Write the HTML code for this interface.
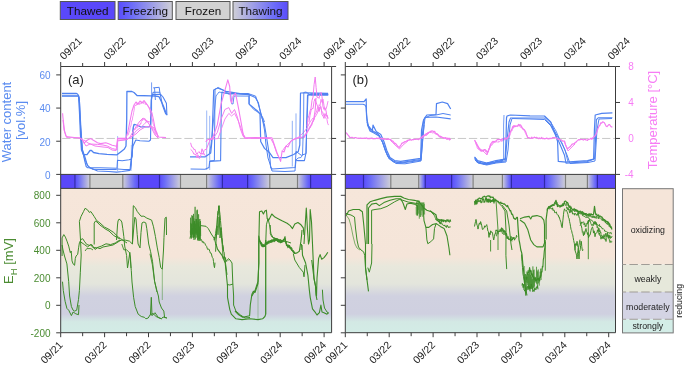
<!DOCTYPE html>
<html><head><meta charset="utf-8"><style>html,body{margin:0;padding:0;background:#fff;width:685px;height:365px;overflow:hidden}svg{display:block;will-change:transform}</style></head>
<body><svg width="685" height="365" viewBox="0 0 685 365" font-family="Liberation Sans, sans-serif">
<defs>
<linearGradient id="fz" x1="0" x2="1" y1="0" y2="0"><stop offset="0" stop-color="#5a4cfb"/><stop offset="0.25" stop-color="#6c6cf8"/><stop offset="1" stop-color="#cfcfd6"/></linearGradient>
<linearGradient id="tw" x1="0" x2="1" y1="0" y2="0"><stop offset="0" stop-color="#cfcfd6"/><stop offset="0.75" stop-color="#6c6cf8"/><stop offset="1" stop-color="#5a4cfb"/></linearGradient>
<linearGradient id="bg" x1="0" x2="0" gradientUnits="userSpaceOnUse" y1="188.4" y2="332.7"><stop offset="0" stop-color="#f6e6da"/><stop offset="0.475" stop-color="#f5e5d9"/><stop offset="0.538" stop-color="#e8e8dc"/><stop offset="0.662" stop-color="#e3e5dc"/><stop offset="0.746" stop-color="#d0d1e0"/><stop offset="0.87" stop-color="#cfd0e0"/><stop offset="0.925" stop-color="#d3e9e4"/><stop offset="1" stop-color="#d3ece6"/></linearGradient>
</defs>
<rect width="685" height="365" fill="#fff"/>
<rect x="60.3" y="1.5" width="54.7" height="18" fill="#5a48fa" stroke="#555" stroke-width="1"/>
<text x="87.65" y="14.5" font-size="11.7" text-anchor="middle" fill="#111">Thawed</text>
<rect x="118.2" y="1.5" width="54.10000000000001" height="18" fill="url(#fz)" stroke="#555" stroke-width="1"/>
<text x="145.25" y="14.5" font-size="11.7" text-anchor="middle" fill="#111">Freezing</text>
<rect x="176" y="1.5" width="54" height="18" fill="#d2d2d2" stroke="#555" stroke-width="1"/>
<text x="203.0" y="14.5" font-size="11.7" text-anchor="middle" fill="#111">Frozen</text>
<rect x="233" y="1.5" width="55" height="18" fill="url(#tw)" stroke="#555" stroke-width="1"/>
<text x="260.5" y="14.5" font-size="11.7" text-anchor="middle" fill="#111">Thawing</text>
<rect x="60.7" y="174.4" width="14.200000000000003" height="14.0" fill="#5a48fa"/>
<rect x="74.9" y="174.4" width="15.0" height="14.0" fill="url(#fz)"/>
<rect x="89.9" y="174.4" width="32.89999999999999" height="14.0" fill="#d0d0d0"/>
<rect x="122.8" y="174.4" width="15.799999999999997" height="14.0" fill="url(#tw)"/>
<rect x="138.6" y="174.4" width="20.900000000000006" height="14.0" fill="#5a48fa"/>
<rect x="159.5" y="174.4" width="21.0" height="14.0" fill="url(#fz)"/>
<rect x="180.5" y="174.4" width="26.099999999999994" height="14.0" fill="#d0d0d0"/>
<rect x="206.6" y="174.4" width="15.800000000000011" height="14.0" fill="url(#tw)"/>
<rect x="222.4" y="174.4" width="25.19999999999999" height="14.0" fill="#5a48fa"/>
<rect x="247.6" y="174.4" width="22.200000000000017" height="14.0" fill="url(#fz)"/>
<rect x="269.8" y="174.4" width="27.69999999999999" height="14.0" fill="#d0d0d0"/>
<rect x="297.5" y="174.4" width="13.100000000000023" height="14.0" fill="url(#tw)"/>
<rect x="310.6" y="174.4" width="21.0" height="14.0" fill="#5a48fa"/>
<line x1="74.9" x2="74.9" y1="174.4" y2="188.4" stroke="#302aa8" stroke-width="1.2"/>
<line x1="89.9" x2="89.9" y1="174.4" y2="188.4" stroke="#808080" stroke-width="1.2"/>
<line x1="122.8" x2="122.8" y1="174.4" y2="188.4" stroke="#808080" stroke-width="1.2"/>
<line x1="138.6" x2="138.6" y1="174.4" y2="188.4" stroke="#302aa8" stroke-width="1.2"/>
<line x1="159.5" x2="159.5" y1="174.4" y2="188.4" stroke="#302aa8" stroke-width="1.2"/>
<line x1="180.5" x2="180.5" y1="174.4" y2="188.4" stroke="#808080" stroke-width="1.2"/>
<line x1="206.6" x2="206.6" y1="174.4" y2="188.4" stroke="#808080" stroke-width="1.2"/>
<line x1="222.4" x2="222.4" y1="174.4" y2="188.4" stroke="#302aa8" stroke-width="1.2"/>
<line x1="247.6" x2="247.6" y1="174.4" y2="188.4" stroke="#302aa8" stroke-width="1.2"/>
<line x1="269.8" x2="269.8" y1="174.4" y2="188.4" stroke="#808080" stroke-width="1.2"/>
<line x1="297.5" x2="297.5" y1="174.4" y2="188.4" stroke="#808080" stroke-width="1.2"/>
<line x1="310.6" x2="310.6" y1="174.4" y2="188.4" stroke="#302aa8" stroke-width="1.2"/>
<rect x="60.7" y="188.4" width="270.90000000000003" height="144.29999999999998" fill="url(#bg)"/>
<line x1="60.7" x2="331.6" y1="138.45" y2="138.45" stroke="#c8c8c8" stroke-width="1" stroke-dasharray="8.3,2.8" stroke-dashoffset="9.6"/>
<rect x="345.3" y="174.4" width="18.19999999999999" height="14.0" fill="#5a48fa"/>
<rect x="363.5" y="174.4" width="27.30000000000001" height="14.0" fill="url(#fz)"/>
<rect x="390.8" y="174.4" width="27.899999999999977" height="14.0" fill="#d0d0d0"/>
<rect x="418.7" y="174.4" width="6.600000000000023" height="14.0" fill="url(#tw)"/>
<rect x="425.3" y="174.4" width="26.30000000000001" height="14.0" fill="#5a48fa"/>
<rect x="451.6" y="174.4" width="21.5" height="14.0" fill="url(#fz)"/>
<rect x="473.1" y="174.4" width="29.299999999999955" height="14.0" fill="#d0d0d0"/>
<rect x="502.4" y="174.4" width="9.0" height="14.0" fill="url(#tw)"/>
<rect x="511.4" y="174.4" width="33.10000000000002" height="14.0" fill="#5a48fa"/>
<rect x="544.5" y="174.4" width="21.0" height="14.0" fill="url(#fz)"/>
<rect x="565.5" y="174.4" width="21.899999999999977" height="14.0" fill="#d0d0d0"/>
<rect x="587.4" y="174.4" width="10.0" height="14.0" fill="url(#tw)"/>
<rect x="597.4" y="174.4" width="18.100000000000023" height="14.0" fill="#5a48fa"/>
<line x1="363.5" x2="363.5" y1="174.4" y2="188.4" stroke="#302aa8" stroke-width="1.2"/>
<line x1="390.8" x2="390.8" y1="174.4" y2="188.4" stroke="#808080" stroke-width="1.2"/>
<line x1="418.7" x2="418.7" y1="174.4" y2="188.4" stroke="#808080" stroke-width="1.2"/>
<line x1="425.3" x2="425.3" y1="174.4" y2="188.4" stroke="#302aa8" stroke-width="1.2"/>
<line x1="451.6" x2="451.6" y1="174.4" y2="188.4" stroke="#302aa8" stroke-width="1.2"/>
<line x1="473.1" x2="473.1" y1="174.4" y2="188.4" stroke="#808080" stroke-width="1.2"/>
<line x1="502.4" x2="502.4" y1="174.4" y2="188.4" stroke="#808080" stroke-width="1.2"/>
<line x1="511.4" x2="511.4" y1="174.4" y2="188.4" stroke="#302aa8" stroke-width="1.2"/>
<line x1="544.5" x2="544.5" y1="174.4" y2="188.4" stroke="#302aa8" stroke-width="1.2"/>
<line x1="565.5" x2="565.5" y1="174.4" y2="188.4" stroke="#808080" stroke-width="1.2"/>
<line x1="587.4" x2="587.4" y1="174.4" y2="188.4" stroke="#808080" stroke-width="1.2"/>
<line x1="597.4" x2="597.4" y1="174.4" y2="188.4" stroke="#302aa8" stroke-width="1.2"/>
<rect x="345.3" y="188.4" width="270.2" height="144.29999999999998" fill="url(#bg)"/>
<line x1="345.3" x2="615.5" y1="138.45" y2="138.45" stroke="#c8c8c8" stroke-width="1" stroke-dasharray="8.3,2.8" stroke-dashoffset="9.6"/>
<path d="M62.0,93.5 L76.5,93.5 L77.5,94.0 L78.5,95.5 L79.5,112.0 L80.5,135.0 L81.5,150.0 L83.5,154.5 L87.0,154.7 L90.0,150.5 L91.5,150.5 L93.5,152.5 L99.0,153.6 L107.0,154.3 L117.0,154.8 L121.3,151.4 L124.4,149.0 L126.0,146.0 L126.7,120.0 L126.9,91.5 L131.9,91.5 L134.0,92.5 L137.0,95.5 L151.0,95.8 L155.0,96.0 L159.0,96.7 L163.0,105.0 L166.8,115.0" fill="none" stroke="#4f82f0" stroke-width="1.3" stroke-linejoin="round"/>
<path d="M62.0,95.7 L78.5,95.7 L79.3,98.0 L80.5,125.0 L82.0,148.0 L84.5,160.0 L86.2,166.5 L87.4,167.6 L100.0,167.8 L117.0,168.2 L117.5,160.3 L122.2,160.8 L129.0,159.8 L131.2,159.2 L132.3,156.3 L132.8,135.0 L133.2,127.0 L134.5,124.3 L141.0,126.9 L148.9,126.9 L150.5,125.0 L151.5,96.0 L153.0,94.5 L160.6,94.4 L163.0,97.0 L166.4,103.2 L166.9,115.3" fill="none" stroke="#4f82f0" stroke-width="1.1" stroke-linejoin="round"/>
<path d="M62.0,96.2 L78.5,96.2 L79.5,102.0 L81.0,130.0 L82.5,150.0 L85.1,157.5 L87.4,165.3 L90.0,168.0 L93.0,168.9 L97.5,171.0 L108.7,171.5 L116.6,172.1 L122.2,171.5 L130.0,170.4 L131.0,160.0 L133.0,146.0 L135.8,140.0 L140.0,140.8 L148.9,141.2 L150.5,140.0 L151.3,100.0 L153.2,92.2 L159.8,92.2 L162.5,105.4 L165.8,114.2" fill="none" stroke="#4f82f0" stroke-width="1.1" stroke-linejoin="round"/>
<path d="M80.5,128.0 L82.0,150.0 L85.0,160.0 L88.0,166.0 L92.4,169.3 L100.0,169.5 L116.6,169.5 L117.5,169.0 L124.0,169.5 L130.6,169.5 L131.3,165.0 L132.0,150.0 L133.0,130.0 L134.0,124.0" fill="none" stroke="#4f82f0" stroke-width="1.0" stroke-linejoin="round"/>
<path d="M153.2,87.9 L159.2,87.3 L159.8,92.2" fill="none" stroke="#4f82f0" stroke-width="1.0" stroke-linejoin="round"/>
<path d="M151.6,82.4 L151.6,110.9" fill="none" stroke="#4f82f0" stroke-width="0.8" stroke-linejoin="round"/>
<path d="M154.5,88.0 L155.4,100.0" fill="none" stroke="#4f82f0" stroke-width="0.9" stroke-linejoin="round"/>
<path d="M117.6,136.0 L117.6,171.0" fill="none" stroke="#4f82f0" stroke-width="0.7" stroke-linejoin="round" stroke-opacity="0.7"/>
<path d="M131.3,145.0 L131.3,171.0" fill="none" stroke="#4f82f0" stroke-width="0.6" stroke-linejoin="round" stroke-opacity="0.6"/>
<path d="M190.0,156.8 L205.3,156.8 L210.7,153.0 L212.0,140.0 L213.7,90.0 L217.6,88.0 L226.0,91.3 L240.0,93.6 L249.2,94.4 L249.2,104.3 L256.9,110.5 L260.0,114.0 L260.3,125.0 L260.7,141.5 L264.5,148.4 L269.1,152.2 L273.0,157.6 L286.0,157.6 L293.7,154.5 L298.3,151.4 L299.8,145.0 L300.5,93.0 L305.0,92.8 L328.0,93.4" fill="none" stroke="#4f82f0" stroke-width="1.2" stroke-linejoin="round"/>
<path d="M190.6,169.0 L205.0,169.3 L209.0,167.5 L209.7,161.4 L220.6,160.6 L221.4,100.0 L222.0,92.0 L226.0,93.0 L249.0,94.8 L255.3,97.4 L258.4,102.8 L261.0,115.0 L264.5,125.0 L267.0,140.0 L269.9,158.3 L270.7,167.5 L272.2,169.0 L295.2,167.5 L296.0,160.0 L297.5,160.6 L304.4,160.6 L306.0,153.0 L307.5,95.0 L310.6,94.4 L328.2,94.4" fill="none" stroke="#4f82f0" stroke-width="1.1" stroke-linejoin="round"/>
<path d="M210.0,161.0 L214.4,160.5 L215.0,89.4 L218.2,87.5 L224.9,91.0 L228.8,94.0 L248.0,93.5 L255.6,96.1 L258.0,103.0 L262.0,117.0 L264.5,130.0 L266.0,145.0 L268.0,158.0 L270.0,164.0 L272.0,171.0 L285.0,171.5 L295.0,171.0 L296.0,151.4 L301.3,155.3 L306.0,153.7 L307.0,120.0 L308.0,95.0 L328.2,95.0" fill="none" stroke="#4f82f0" stroke-width="1.0" stroke-linejoin="round"/>
<path d="M209.5,153.0 L211.0,145.0 L216.0,96.0 L219.0,92.0 L230.7,94.2 L231.6,103.8 L233.0,104.0 L234.0,96.0 L248.9,96.1 L248.9,103.8 L253.7,109.5 L260.0,113.4 L263.0,118.0 L264.5,122.0" fill="none" stroke="#4f82f0" stroke-width="0.9" stroke-linejoin="round"/>
<path d="M310.6,94.4 L328.2,94.4" fill="none" stroke="#4f82f0" stroke-width="2.2" stroke-linejoin="round"/>
<path d="M206.7,110.5 L206.7,170.0" fill="none" stroke="#4f82f0" stroke-width="0.7" stroke-linejoin="round" stroke-opacity="0.8"/>
<path d="M209.7,115.8 L209.7,170.0" fill="none" stroke="#4f82f0" stroke-width="0.7" stroke-linejoin="round" stroke-opacity="0.8"/>
<path d="M292.3,120.8 L292.3,166.5" fill="none" stroke="#4f82f0" stroke-width="0.8" stroke-linejoin="round" stroke-opacity="0.8"/>
<path d="M296.0,113.4 L296.0,154.0" fill="none" stroke="#4f82f0" stroke-width="0.8" stroke-linejoin="round" stroke-opacity="0.8"/>
<path d="M62.6,113.2 L63.0,118.0 L63.8,124.7 L64.6,131.2 L66.2,136.2 L67.0,137.5 L79.4,137.8 L82.7,139.5 L84.3,143.5 L86.0,141.0 L88.4,139.5 L90.9,138.6 L93.0,140.0 L97.5,142.7 L100.7,143.6 L105.7,142.7 L108.0,143.5 L112.2,145.2 L115.5,146.0 L117.0,146.5 L117.5,138.4 L126.0,138.4 L128.0,131.0 L130.0,121.0 L132.0,111.0 L134.0,105.0 L136.0,102.0 L138.0,104.0 L140.0,101.0 L142.0,103.0 L144.0,100.5 L146.0,103.0 L148.0,106.0 L150.0,109.0 L152.0,113.0 L153.5,120.0 L155.0,128.0 L157.0,134.0 L158.3,137.0 L166.0,137.6" fill="none" stroke="#f47cf0" stroke-width="1.1" stroke-linejoin="round"/>
<path d="M63.0,120.0 L64.0,130.0 L66.0,136.5 L80.0,138.2 L83.0,141.0 L86.0,146.0 L90.0,144.0 L97.5,144.4 L103.0,145.0 L107.3,146.0 L112.2,148.5 L115.5,149.3 L117.0,150.0 L117.5,140.0 L124.0,140.0 L127.5,139.5 L130.0,137.0 L134.0,130.0 L137.0,125.0 L140.0,121.0 L143.0,118.0 L146.0,120.0 L149.0,124.0 L152.0,129.0 L155.0,135.0 L158.0,138.0" fill="none" stroke="#f47cf0" stroke-width="1.0" stroke-linejoin="round"/>
<path d="M84.0,140.0 L88.0,143.0 L95.0,146.0 L103.0,147.0 L108.0,147.5 L112.0,150.0 L116.0,150.5 L117.5,141.0 L126.0,139.5 L130.0,137.5 L136.0,134.0 L140.0,130.0 L146.0,126.5 L150.0,127.0 L153.0,127.0 L156.0,132.0 L158.3,137.0" fill="none" stroke="#f47cf0" stroke-width="1.0" stroke-linejoin="round"/>
<path d="M130.0,138.8 L133.0,135.0 L136.0,131.0 L140.0,128.0 L144.0,124.5 L147.0,121.0 L150.0,122.0" fill="none" stroke="#f47cf0" stroke-width="0.9" stroke-linejoin="round"/>
<path d="M128.0,135.3 L128.4,134.7 L128.8,132.9 L129.2,132.1 L129.7,130.7 L130.1,127.9 L130.5,126.3 L130.9,126.3 L131.4,122.7 L131.8,120.5 L132.3,120.3 L132.7,116.8 L133.2,115.6 L133.6,112.5 L134.1,110.4 L134.5,106.6 L135.0,105.4 L135.4,105.9 L135.8,104.9 L136.2,105.3 L136.6,105.0 L137.0,103.4 L137.4,105.0 L137.9,104.4 L138.3,103.5 L138.7,102.7 L139.2,104.7 L139.6,103.5 L140.0,103.8 L140.5,103.9 L140.9,103.2 L141.4,103.4 L141.8,101.7 L142.2,102.9 L142.7,102.1 L143.1,103.5 L143.5,103.4 L143.9,101.5 L144.4,101.7 L144.8,102.1 L145.3,104.5 L145.7,103.5 L146.2,104.4 L146.6,104.0 L147.1,105.0 L147.6,105.3 L148.0,105.8 L148.5,107.0 L148.9,107.6 L149.4,109.1 L149.9,110.5 L150.4,113.1 L150.9,114.9 L151.4,117.3 L151.9,118.5 L152.4,119.2 L152.8,122.5 L153.3,124.3 L153.7,125.7 L154.2,126.3 L154.6,128.2 L155.1,128.1 L155.5,130.9 L156.0,131.5 L156.4,131.9 L156.9,132.6 L157.4,135.6 L157.9,137.0 L158.4,135.6" fill="none" stroke="#f47cf0" stroke-width="0.8" stroke-linejoin="round"/>
<path d="M135.0,129.9 L135.4,128.6 L135.8,127.5 L136.3,127.5 L136.7,128.2 L137.1,128.0 L137.5,125.6 L137.9,126.5 L138.3,124.8 L138.8,126.0 L139.2,124.6 L139.6,125.5 L140.0,125.1 L140.5,123.3 L140.9,123.9 L141.3,121.6 L141.7,120.4 L142.2,121.0 L142.6,119.0 L143.0,119.2 L143.5,119.6 L143.9,119.9 L144.4,118.7 L144.8,118.3 L145.3,120.7 L145.7,119.8 L146.2,121.8 L146.6,122.1 L147.1,121.3 L147.5,121.9 L148.0,122.5 L148.4,123.2 L148.8,123.5 L149.2,123.9 L149.7,124.5 L150.1,125.7 L150.5,125.3 L151.0,125.7 L151.4,127.1 L151.8,126.6 L152.2,127.4 L152.7,129.7 L153.1,129.3 L153.5,130.2 L154.0,129.7 L154.4,131.6 L154.8,132.8 L155.2,132.3 L155.7,134.6 L156.1,135.5" fill="none" stroke="#f47cf0" stroke-width="0.8" stroke-linejoin="round"/>
<path d="M190.6,142.8 L191.7,146.9 L192.8,147.3 L193.9,149.6 L195.0,149.3 L196.0,152.7 L197.0,154.5 L198.0,152.6 L199.0,151.6 L200.0,153.4 L201.0,153.6 L202.0,148.8 L203.3,152.1 L204.6,155.1 L205.9,156.1" fill="none" stroke="#f47cf0" stroke-width="1.0" stroke-linejoin="round"/>
<path d="M190.6,149.3 L191.7,150.3 L192.8,151.8 L193.9,154.2 L195.0,154.0 L196.0,155.1 L197.0,157.9 L198.0,154.9 L199.0,158.3 L200.0,157.9 L201.0,154.6 L202.0,152.9 L203.0,154.5 L204.0,150.7 L205.0,149.4 L206.0,149.7" fill="none" stroke="#f47cf0" stroke-width="1.0" stroke-linejoin="round"/>
<path d="M205.8,142.0 L207.0,140.0 L211.5,138.4 L213.0,137.0 L217.3,124.9 L221.1,103.8 L224.9,90.3 L227.8,79.8 L229.7,86.5 L230.5,100.0 L231.6,103.0 L233.0,96.0 L235.5,93.2 L238.4,107.6 L241.2,123.0 L243.2,134.5 L245.1,137.3 L272.0,137.8 L273.7,143.0 L276.8,152.2 L280.6,161.4 L282.2,150.7 L284.0,152.0 L286.0,146.0 L288.0,147.0 L290.6,141.5 L295.2,138.4 L304.4,136.9 L309.0,129.2 L313.6,120.0 L315.2,110.0 L316.0,98.0" fill="none" stroke="#f47cf0" stroke-width="1.1" stroke-linejoin="round"/>
<path d="M206.0,150.0 L210.0,140.0 L213.0,138.5 L217.3,132.5 L221.1,119.1 L224.9,109.5 L228.8,107.6 L231.6,113.4 L234.5,109.5 L237.4,117.2 L240.3,128.7 L243.0,136.0 L245.0,138.4 L270.7,138.4 L273.7,144.0 L276.0,151.0 L278.0,156.0 L280.0,158.0" fill="none" stroke="#f47cf0" stroke-width="1.0" stroke-linejoin="round"/>
<path d="M209.0,139.5 L218.0,138.5 L221.0,130.0 L224.9,119.1 L228.8,113.4 L231.6,116.0 L234.5,113.4 L238.4,121.0 L242.0,131.0 L245.0,138.6" fill="none" stroke="#f47cf0" stroke-width="0.9" stroke-linejoin="round"/>
<path d="M283.0,150.0 L285.0,147.0 L288.0,144.0 L292.0,140.0 L296.0,139.0 L300.0,136.0 L304.0,132.0 L307.0,128.0 L310.0,122.0 L313.0,118.0" fill="none" stroke="#f47cf0" stroke-width="0.9" stroke-linejoin="round"/>
<path d="M307.0,126.2 L308.0,118.3 L309.0,115.3 L310.0,111.0 L311.0,108.3 L312.0,100.3 L313.0,97.1 L314.1,84.5 L315.2,77.0 L316.1,87.4 L317.0,97.3 L318.0,97.2 L319.0,98.4 L320.0,93.7 L321.0,92.2 L322.0,96.6 L323.0,106.8 L324.0,109.4 L325.0,107.8 L326.0,110.7 L327.0,116.8 L328.0,118.9" fill="none" stroke="#f47cf0" stroke-width="1.0" stroke-linejoin="round"/>
<path d="M309.0,122.1 L310.0,115.6 L311.0,110.7 L312.0,108.5 L313.0,108.7 L314.0,101.7 L315.0,98.9 L316.0,102.1 L317.0,104.8 L318.0,107.4 L319.0,111.6 L320.0,106.9 L321.0,106.5 L322.0,114.8 L323.0,116.0 L324.0,118.4 L325.0,113.5 L326.0,116.2 L327.0,115.0 L328.0,118.1" fill="none" stroke="#f47cf0" stroke-width="1.0" stroke-linejoin="round"/>
<path d="M312.0,122.5 L312.8,121.6 L313.6,119.2 L314.4,116.9 L315.2,114.1 L316.0,113.0 L316.8,110.4 L317.6,107.4 L318.4,108.5 L319.2,104.7 L320.0,105.9 L321.0,99.3 L322.0,102.4 L323.0,99.2 L324.0,105.5 L325.0,110.4 L326.0,109.1 L327.0,105.8 L328.0,101.1" fill="none" stroke="#f47cf0" stroke-width="0.9" stroke-linejoin="round"/>
<path d="M304.0,137.7 L304.7,134.8 L305.3,134.1 L306.0,134.0 L306.7,132.4 L307.3,130.9 L308.0,131.3 L308.6,129.4 L309.2,127.7 L309.8,126.6 L310.5,127.5 L311.1,125.4 L311.7,125.4 L312.3,123.3 L312.9,121.2 L313.6,120.6 L314.2,119.9 L314.8,116.3 L315.5,116.6 L316.1,115.4 L316.8,114.1 L317.4,113.2 L318.1,109.8 L318.7,110.7 L319.4,110.4 L320.0,107.0 L320.6,108.6 L321.2,109.5 L321.8,111.2 L322.4,111.8 L323.0,112.9 L323.7,115.5 L324.3,114.8 L325.0,116.7 L325.6,117.8 L326.3,118.8 L327.0,119.6 L327.6,123.2 L328.5,125.1" fill="none" stroke="#f47cf0" stroke-width="0.9" stroke-linejoin="round"/>
<path d="M296.0,160.0 L298.0,158.0 L301.0,157.5 L302.5,155.0 L303.6,120.0 L303.8,92.5 L306.0,92.0 L309.0,94.0" fill="none" stroke="#4f82f0" stroke-width="0.9" stroke-linejoin="round"/>
<path d="M346.0,101.6 L364.0,101.6 L366.2,99.0 L366.5,115.0 L367.0,120.0 L368.5,126.1 L372.4,130.7 L373.0,125.0 L376.2,131.5 L380.8,134.6 L383.9,141.5 L386.9,150.7 L390.0,157.6 L394.6,160.6 L400.7,161.4 L420.7,158.3 L421.5,130.0 L423.5,120.0 L426.8,115.0 L436.0,114.5 L436.5,103.6 L442.3,102.0 L447.6,103.6 L450.7,109.0" fill="none" stroke="#4f82f0" stroke-width="1.2" stroke-linejoin="round"/>
<path d="M346.0,104.3 L363.0,104.3 L365.0,105.0 L366.0,107.0 L367.5,125.0 L370.0,131.0 L374.0,133.0 L379.0,136.0 L383.0,143.0 L386.0,152.0 L389.0,158.5 L394.0,162.0 L400.7,162.5 L420.7,159.5 L422.0,140.0 L423.5,121.0 L425.0,117.4 L436.0,117.0 L450.7,118.9" fill="none" stroke="#4f82f0" stroke-width="1.1" stroke-linejoin="round"/>
<path d="M367.0,122.0 L369.0,128.0 L374.0,131.5 L379.0,135.0 L382.0,141.0 L385.0,150.0 L388.0,157.0 L393.0,161.0 L400.0,163.2 L421.0,160.3 L423.0,135.0 L425.0,118.0 L430.0,115.5 L436.0,115.0 L443.0,113.5 L450.7,115.0" fill="none" stroke="#4f82f0" stroke-width="1.0" stroke-linejoin="round"/>
<path d="M368.0,125.0 L371.0,131.0 L377.0,133.0 L381.0,138.0 L384.0,146.0 L387.0,154.0 L391.0,160.0 L396.0,163.5 L405.0,163.8 L421.0,161.0 L424.0,125.0" fill="none" stroke="#4f82f0" stroke-width="1.0" stroke-linejoin="round"/>
<path d="M474.5,156.8 L477.5,160.6 L486.7,163.0 L496.0,160.6 L505.2,159.0 L506.0,140.0 L506.5,118.0 L507.0,116.0 L510.5,115.0 L530.0,115.8 L544.5,116.0 L550.7,122.0 L555.3,133.8 L557.6,141.5 L558.3,161.4 L566.0,162.2 L587.5,160.6 L593.6,159.1 L594.4,130.0 L595.2,115.0 L601.7,113.4 L612.4,112.8" fill="none" stroke="#4f82f0" stroke-width="1.2" stroke-linejoin="round"/>
<path d="M474.5,158.5 L477.5,162.5 L486.7,164.5 L496.0,162.3 L505.2,161.0 L507.0,140.0 L509.0,122.0 L510.5,118.0 L530.0,118.0 L544.5,118.0 L550.0,124.0 L555.0,134.0 L559.0,142.0 L564.5,155.3 L566.0,163.2 L587.5,161.6 L594.6,158.8 L595.5,140.0 L596.4,119.6 L598.2,117.8 L612.4,117.8" fill="none" stroke="#4f82f0" stroke-width="1.1" stroke-linejoin="round"/>
<path d="M475.0,160.0 L478.0,163.0 L486.7,165.0 L496.0,163.0 L506.0,162.0 L508.0,150.0 L510.0,125.0 L512.0,118.5 L530.0,119.0 L544.5,119.5 L552.0,127.0 L558.0,137.0 L562.0,143.0 L567.0,155.0 L570.0,163.5 L588.0,162.5 L595.0,161.0 L597.0,130.0 L599.0,119.0 L612.0,118.5" fill="none" stroke="#4f82f0" stroke-width="1.0" stroke-linejoin="round"/>
<path d="M544.5,116.5 L550.0,121.0 L556.0,131.0 L560.0,140.0 L565.0,150.0 L568.0,162.0" fill="none" stroke="#4f82f0" stroke-width="0.9" stroke-linejoin="round"/>
<path d="M346.3,132.6 L346.9,133.8 L347.5,134.3 L348.1,135.1 L348.8,135.9 L349.4,137.0 L350.0,137.7 L350.6,137.5 L351.2,137.4 L351.9,137.5 L352.5,137.4 L353.1,137.8 L353.8,138.0 L354.4,137.7 L355.0,137.5 L355.6,137.6 L356.2,137.8 L356.9,138.1 L357.5,138.3 L358.1,138.0 L358.8,138.4 L359.4,138.3 L360.0,138.1 L360.6,138.1 L361.2,138.2 L361.8,138.4 L362.4,138.2 L363.0,138.4 L363.6,138.2 L364.2,138.0 L364.8,138.3 L365.4,138.5 L366.0,137.9 L366.6,138.2 L367.2,138.2 L367.8,138.7 L368.4,138.7 L369.0,138.2 L369.6,138.7 L370.2,138.6 L370.8,138.1 L371.4,138.3 L372.0,138.0 L372.6,138.7 L373.2,138.5 L373.8,138.8 L374.4,138.7 L375.0,138.6 L375.6,138.7 L376.2,138.5 L376.8,138.1 L377.4,138.6 L378.0,138.1 L378.6,138.2 L379.2,138.9 L379.8,138.2 L380.4,138.3 L381.0,138.3 L381.6,139.1 L382.2,138.5 L382.8,138.3 L383.4,139.2 L384.0,138.5 L384.6,139.3 L385.2,139.1 L385.8,139.3 L386.4,139.5 L387.0,139.1 L387.6,139.4 L388.2,138.6 L388.8,139.4 L389.4,139.2 L390.0,139.4 L390.7,139.3 L391.3,140.5 L392.0,141.3 L392.6,140.9 L393.3,141.7 L393.9,142.5 L394.6,143.3 L395.3,143.4 L395.9,144.0 L396.6,144.7 L397.2,145.7 L397.9,146.5 L398.5,146.8 L399.2,147.5 L399.8,146.6 L400.4,145.6 L401.1,144.8 L401.7,143.5 L402.3,143.0 L402.9,143.2 L403.5,142.3 L404.1,142.3 L404.7,141.5 L405.4,141.7 L406.0,141.5 L406.6,141.1 L407.2,140.6 L407.8,140.3 L408.4,140.1 L409.0,140.4 L409.6,139.6 L410.3,139.5 L410.9,140.1 L411.5,140.2 L412.1,139.7 L412.8,139.6 L413.4,139.8 L414.0,139.3 L414.6,139.3 L415.3,139.2 L415.9,139.5 L416.5,139.2 L417.1,139.1 L417.8,139.5 L418.4,139.7 L419.0,139.0 L419.6,138.9 L420.3,138.2 L420.9,138.2 L421.5,137.4 L422.1,136.7 L422.8,136.2 L423.4,135.5 L424.0,135.5 L424.7,134.9 L425.3,134.3 L425.9,134.1 L426.5,133.6 L427.1,133.7 L427.7,132.7 L428.4,133.1 L429.0,132.2 L429.6,132.0 L430.2,131.4 L430.8,131.4 L431.4,131.0 L432.0,130.9 L432.7,131.0 L433.3,131.4 L434.0,131.7 L434.6,131.4 L435.3,132.5 L436.0,133.5 L436.6,133.6 L437.3,134.0 L437.9,134.6 L438.6,135.7 L439.2,136.3 L439.8,136.9 L440.4,137.1 L441.0,136.7 L441.6,137.0 L442.2,137.4 L442.8,137.3 L443.4,137.9 L444.1,138.1 L444.7,138.2 L445.3,137.6 L446.0,138.3 L446.6,138.0 L447.3,138.2 L448.0,138.7 L448.7,138.3 L449.4,138.4 L450.0,139.4 L450.7,139.0" fill="none" stroke="#f47cf0" stroke-width="1.2" stroke-linejoin="round"/>
<path d="M418.0,139.2 L418.5,139.5 L419.0,139.4 L419.5,138.0 L420.0,138.5 L420.5,138.4 L421.0,138.3 L421.5,137.7 L422.0,138.2 L422.5,138.4 L423.0,137.1 L423.5,137.0 L424.0,135.8 L424.5,135.7 L425.0,136.0 L425.5,134.7 L426.0,135.7 L426.5,135.3 L427.0,133.4 L427.5,134.5 L428.0,133.1 L428.5,133.4 L429.0,133.0 L429.5,132.0 L430.0,132.6 L430.5,132.5 L431.0,132.7 L431.5,131.7 L432.0,132.5 L432.5,133.1 L433.0,132.8 L433.5,132.8 L434.0,132.3 L434.5,133.2 L435.0,133.2 L435.5,134.1 L436.0,134.3 L436.5,134.4 L437.0,133.9 L437.5,135.0 L438.0,135.2 L438.5,134.8 L439.0,136.4 L439.5,136.3 L440.0,135.7 L440.5,137.4 L441.0,136.4 L441.5,136.9 L442.0,137.8 L442.5,137.7 L443.0,137.8 L443.5,138.2 L444.0,138.0 L444.5,138.0 L445.0,137.9 L445.5,137.9 L446.0,139.1 L446.5,139.3 L447.0,139.1 L447.5,139.6 L448.0,139.0 L448.5,139.0 L449.0,139.3 L449.5,140.3 L450.0,139.0" fill="none" stroke="#f47cf0" stroke-width="1.0" stroke-linejoin="round"/>
<path d="M390.0,139.8 L395.0,145.0 L399.5,149.0 L403.0,145.0 L408.0,141.0" fill="none" stroke="#f47cf0" stroke-width="0.9" stroke-linejoin="round"/>
<path d="M474.5,140.0 L475.5,141.6 L476.5,144.4 L477.5,145.8 L478.5,147.3 L479.6,149.0 L480.6,150.8 L481.5,151.0 L482.4,150.2 L483.4,150.8 L484.3,149.5 L485.2,149.6 L486.4,150.9 L487.5,152.4 L488.5,150.6 L489.6,147.7 L490.6,144.0 L491.8,142.5 L492.9,141.4 L493.8,141.6 L494.7,141.4 L495.7,141.0 L496.6,140.4 L497.5,139.4 L498.4,139.7 L499.2,139.3 L500.1,139.7 L501.0,139.7 L501.9,139.0 L502.7,138.9 L503.6,139.7 L504.5,138.0 L505.4,138.8 L506.4,138.4 L507.3,138.1 L508.2,136.7 L509.1,134.8 L510.0,132.7 L511.0,130.6 L511.9,129.0 L512.8,126.4 L513.8,125.8 L514.9,126.7 L515.9,126.1 L516.8,126.0 L517.7,125.9 L518.7,124.4 L519.6,125.3 L520.5,124.9 L521.3,126.1 L522.2,127.7 L523.0,129.1 L524.0,129.5 L525.0,130.7 L525.9,132.3 L526.8,135.3 L527.7,137.8 L528.5,137.5 L529.3,137.8 L530.2,138.4 L531.0,138.4 L531.8,137.2 L532.6,138.3 L533.4,138.0 L534.3,137.1 L535.1,137.7 L535.9,137.5 L536.7,137.3 L537.5,138.1 L538.4,138.7 L539.2,137.8 L540.0,138.7 L540.8,138.4 L541.7,137.5 L542.5,138.7 L543.4,138.3 L544.2,138.9 L545.0,138.5 L545.9,138.6 L546.7,138.0 L547.6,138.7 L548.4,138.9 L549.2,138.8 L550.1,138.2 L550.9,138.7 L551.8,138.3 L552.6,137.7 L553.4,137.6 L554.3,137.7 L555.1,137.9 L556.0,137.8 L556.8,138.4 L557.7,139.1 L558.5,139.1 L559.4,139.3 L560.2,140.0 L561.1,139.8 L561.9,140.4 L562.8,141.2 L563.6,141.0 L564.5,141.0 L565.5,144.7 L566.5,146.9 L567.5,148.9 L568.5,147.9 L569.6,147.1 L570.6,146.2 L571.5,145.0 L572.4,144.0 L573.4,143.7 L574.3,144.1 L575.2,142.4 L576.1,142.2 L576.9,141.1 L577.8,140.4 L578.6,139.6 L579.4,139.9 L580.2,139.6 L581.0,139.3 L581.8,139.5 L582.6,139.6 L583.5,140.1 L584.3,139.4 L585.1,139.3 L585.9,140.0 L586.7,140.0 L587.5,140.4 L588.4,139.1 L589.3,139.3 L590.1,139.0 L591.0,138.1 L591.9,139.3 L592.8,137.9 L593.7,136.8 L594.6,136.5 L595.5,135.1 L596.4,133.4 L597.3,130.6 L598.2,127.9 L599.1,126.0 L599.9,125.3 L600.8,122.8 L601.7,123.1 L602.6,121.9 L603.5,122.1 L604.4,122.8 L605.3,124.5 L606.2,126.3 L607.1,126.6 L607.9,125.7 L608.8,124.7 L609.7,124.7 L610.6,126.1 L611.5,127.0 L612.4,126.8" fill="none" stroke="#f47cf0" stroke-width="1.2" stroke-linejoin="round"/>
<path d="M476.0,142.0 L479.0,148.0 L483.0,151.0 L487.0,155.0 L490.0,146.0 L494.0,141.0" fill="none" stroke="#f47cf0" stroke-width="0.9" stroke-linejoin="round"/>
<path d="M474.8,140.5 L475.2,141.7 L475.6,142.9 L476.0,144.1 L476.4,145.0 L476.8,146.1 L477.2,147.7 L477.7,148.6 L478.1,147.6 L478.6,149.5 L479.0,149.0 L479.4,149.9 L479.8,150.3 L480.2,150.6 L480.6,149.1 L481.1,149.9 L481.5,150.7 L481.9,151.6 L482.3,150.2 L482.8,150.4 L483.2,151.4 L483.6,149.7 L484.1,150.1 L484.6,149.8 L485.0,150.4 L485.4,151.6 L485.8,150.7 L486.3,152.6 L486.7,153.3 L487.1,154.2 L487.6,152.5 L488.1,152.1 L488.5,149.9 L489.0,148.8 L489.4,147.8 L489.9,148.2 L490.3,146.9 L490.8,145.7 L491.2,144.8 L491.6,145.5 L492.1,144.8 L492.5,144.6 L492.9,143.5 L493.4,143.3 L493.8,142.2 L494.3,142.9 L494.7,141.0 L495.1,141.9 L495.5,142.4 L495.9,142.2 L496.4,140.9 L496.8,141.2 L497.2,142.3 L497.6,141.9 L498.0,142.3 L498.4,142.2 L498.9,141.3 L499.3,142.1 L499.7,141.7 L500.1,140.9 L500.5,140.8 L501.0,140.1 L501.4,140.6 L501.8,141.6 L502.3,139.7 L502.7,140.5 L503.1,139.5 L503.6,139.3 L504.0,140.3 L504.4,139.3 L504.9,138.8 L505.3,138.9 L505.7,139.7 L506.1,139.5 L506.6,138.2 L507.0,138.5 L507.4,139.4 L507.9,137.3 L508.4,137.4 L508.8,136.5 L509.2,136.6 L509.7,135.7 L510.1,135.1 L510.5,133.7 L510.9,132.1 L511.3,131.1 L511.7,130.0 L512.1,130.6 L512.5,128.2 L512.9,127.2 L513.4,128.3 L513.8,125.9 L514.2,127.2 L514.6,125.5 L515.0,126.2 L515.4,125.7 L515.8,126.8 L516.2,126.4 L516.6,126.3 L517.0,126.5 L517.5,126.6 L517.9,125.5 L518.4,125.9 L518.8,125.5 L519.3,124.7 L519.8,126.6 L520.2,126.5 L520.6,127.4 L521.1,126.6 L521.5,127.7 L522.0,127.9 L522.5,129.0 L522.9,128.3 L523.4,129.4 L523.9,130.3 L524.3,130.1 L524.8,131.6 L525.2,132.9 L525.7,133.2 L526.1,134.5 L526.6,135.4 L527.0,135.5 L527.5,136.7" fill="none" stroke="#f47cf0" stroke-width="0.8" stroke-linejoin="round"/>
<path d="M474.8,158.1 L475.2,158.0 L475.7,158.8 L476.1,159.1 L476.6,160.0 L477.0,160.6 L477.4,161.7 L477.9,161.7 L478.3,162.1 L478.7,162.4 L479.1,162.2 L479.6,162.8 L480.0,162.5 L480.4,162.5 L480.9,163.2 L481.3,163.2 L481.7,163.4 L482.1,162.9 L482.6,163.3 L483.0,162.9 L483.4,163.7 L483.8,163.7 L484.3,163.1 L484.7,163.9 L485.1,163.1 L485.5,163.1 L486.0,163.9 L486.4,163.5 L486.8,163.7 L487.2,163.7 L487.6,162.9 L488.1,163.7 L488.5,163.1 L488.9,163.2 L489.3,163.0 L489.7,163.4 L490.1,163.4 L490.5,162.7 L491.0,162.5 L491.4,162.6 L491.8,162.7 L492.2,162.2 L492.6,162.2 L493.0,162.9 L493.5,162.8 L493.9,163.0 L494.3,162.9 L494.7,162.8 L495.1,162.0 L495.5,161.7 L495.9,161.8 L496.3,161.8 L496.8,161.8 L497.2,161.7 L497.6,161.4 L498.0,161.9 L498.4,161.1 L498.8,161.2 L499.2,161.6 L499.6,161.4 L500.0,160.7 L500.4,160.5 L500.8,161.1 L501.3,160.0 L501.7,160.1 L502.1,160.4 L502.5,160.3 L502.9,159.8 L503.3,159.4 L503.7,159.4 L504.1,159.8 L504.5,159.2 L504.9,159.6" fill="none" stroke="#4f82f0" stroke-width="1.4" stroke-linejoin="round"/>
<path d="M503.6,160.0 L503.6,125.0 L504.0,115.0" fill="none" stroke="#4f82f0" stroke-width="0.8" stroke-linejoin="round"/>
<path d="M564.0,141.0 L566.0,146.0 L568.0,151.0 L571.0,148.0 L575.0,144.0" fill="none" stroke="#f47cf0" stroke-width="0.9" stroke-linejoin="round"/>
<path d="M62.1,256.0 L62.1,237.9 L63.8,234.6 L65.4,237.1 L67.0,241.2 L68.7,246.1 L70.3,252.7 L71.2,251.0 L72.0,260.9 L73.1,263.9 L74.6,265.3 L75.3,258.4 L76.1,256.0 L77.7,254.3 L78.6,247.8 L79.4,242.8 L81.0,239.5 L82.7,238.7 L84.3,241.2 L86.8,244.5 L89.3,245.3 L91.7,244.5 L93.4,247.0 L95.0,249.4 L97.5,247.8 L100.0,248.6 L103.0,247.0 L108.0,246.0 L113.0,245.0 L118.0,242.0 L121.0,240.0" fill="none" stroke="#3c8c28" stroke-width="1.0" stroke-linejoin="round"/>
<path d="M62.1,245.0 L63.0,250.0 L64.5,256.0 L66.9,263.9 L68.7,281.7 L69.6,296.0 L71.4,306.6 L73.1,310.2 L74.6,311.1 L76.7,310.2 L78.5,299.5 L79.4,290.6 L80.3,272.8 L81.2,255.0 L80.5,240.0 L79.4,221.4 L81.0,216.5 L83.5,211.6 L85.1,208.3 L87.6,209.9 L89.3,212.4 L90.9,211.6 L94.2,216.5 L96.7,220.6 L100.0,223.0 L104.5,227.1 L109.0,229.4 L113.7,232.5 L118.3,237.1 L120.6,238.6 L124.0,241.0 L127.0,243.0" fill="none" stroke="#3c8c28" stroke-width="1.0" stroke-linejoin="round"/>
<path d="M62.5,281.7 L63.3,290.6 L65.1,301.3 L66.9,308.4 L68.7,310.2 L71.4,315.6 L73.1,312.0 L75.8,313.8 L78.5,314.7 L79.0,305.0" fill="none" stroke="#3c8c28" stroke-width="1.0" stroke-linejoin="round"/>
<path d="M80.0,241.5 L84.5,244.6 L87.6,246.9 L90.7,244.6 L93.0,247.7 L96.8,247.7 L101.4,246.1 L106.0,243.8 L110.6,244.6 L115.2,243.0 L118.3,240.8 L121.8,240.2 L125.7,240.2 L129.5,241.2 L132.4,244.0" fill="none" stroke="#3c8c28" stroke-width="1.0" stroke-linejoin="round"/>
<path d="M85.1,251.0 L86.8,248.6 L90.9,248.6 L93.0,250.0" fill="none" stroke="#3c8c28" stroke-width="0.9" stroke-linejoin="round"/>
<path d="M94.2,244.5 L94.2,223.1 L95.5,221.0 L97.0,222.0 L99.9,225.0 L106.0,229.4 L109.0,231.0 L113.7,235.5 L118.0,238.0 L120.0,239.0" fill="none" stroke="#3c8c28" stroke-width="1.0" stroke-linejoin="round"/>
<path d="M116.5,240.0 L117.5,225.0 L118.0,221.0 L119.0,219.1 L120.5,220.0 L121.8,222.0 L122.8,228.7 L123.8,236.4 L124.7,246.0 L126.6,255.5 L127.5,268.0 L128.5,262.0 L129.8,252.3 L131.3,270.7 L132.0,282.0 L133.6,297.3 L135.2,306.5 L138.2,314.2 L141.3,316.5 L144.4,317.3 L145.9,318.8 L148.2,318.0 L150.5,314.2 L151.3,297.3 L152.0,315.7 L155.0,312.7 L158.2,317.3 L161.5,318.8 L163.0,317.0 L166.9,318.0" fill="none" stroke="#3c8c28" stroke-width="1.0" stroke-linejoin="round"/>
<path d="M132.4,244.0 L133.0,217.2 L133.3,205.7 L135.3,207.6 L137.2,211.4 L141.0,216.2 L143.9,216.2 L146.8,218.1 L151.6,220.1 L153.5,226.8 L155.4,236.4 L157.3,247.9 L159.2,257.5 L160.7,267.6 L162.3,269.1 L163.5,250.0 L164.0,237.3 L165.0,218.1 L166.3,217.2 L166.5,235.0" fill="none" stroke="#3c8c28" stroke-width="1.0" stroke-linejoin="round"/>
<path d="M121.8,244.0 L123.8,249.8 L126.6,249.8 L129.5,252.7 L130.5,258.0 L131.0,268.0" fill="none" stroke="#3c8c28" stroke-width="0.9" stroke-linejoin="round"/>
<path d="M132.4,244.0 L134.0,225.0 L134.9,217.2 L136.0,219.0 L137.2,234.4 L138.1,244.0 L140.0,247.9 L141.0,232.5 L142.0,222.9 L143.9,222.0 L145.8,222.9 L146.8,228.7 L148.7,244.0 L150.6,251.7 L152.5,261.3 L154.6,281.4 L156.9,290.6 L158.4,296.0 L159.2,302.0 L161.5,308.0 L163.8,311.1 L164.6,317.3 L166.9,318.0" fill="none" stroke="#3c8c28" stroke-width="1.0" stroke-linejoin="round"/>
<path d="M150.0,253.8 L152.3,264.5 L154.6,281.4 L156.9,292.0" fill="none" stroke="#3c8c28" stroke-width="0.9" stroke-linejoin="round"/>
<path d="M162.3,269.0 L162.3,300.0" fill="none" stroke="#3c8c28" stroke-width="0.7" stroke-linejoin="round" stroke-opacity="0.7"/>
<path d="M150.0,315.0 L153.0,313.5 L156.1,316.5 L159.2,318.0 L161.5,318.8" fill="none" stroke="#3c8c28" stroke-width="1.0" stroke-linejoin="round"/>
<path d="M190.3,230.7 L190.5,235.3 L190.6,217.7 L190.8,233.5 L190.9,222.9 L191.1,237.3 L191.3,229.8 L191.4,238.6 L191.6,224.1 L191.7,232.7 L191.9,215.2 L192.1,237.7 L192.2,228.4 L192.4,232.7 L192.5,216.0 L192.7,234.5 L192.9,228.2 L193.0,234.1 L193.2,222.8 L193.3,237.1 L193.5,213.9 L193.7,238.1 L193.8,218.4 L194.0,240.0 L194.1,226.0 L194.3,234.8 L194.5,221.4 L194.6,234.2 L194.8,220.9 L194.9,231.8 L195.1,206.8 L195.3,239.4 L195.4,228.4 L195.6,231.7 L195.7,223.8 L195.9,233.4 L196.1,219.0 L196.2,237.7 L196.4,219.0 L196.5,232.9 L196.7,229.2 L196.9,234.8 L197.0,210.4 L197.2,232.5 L197.3,209.7 L197.5,240.4 L197.7,230.7 L197.8,235.9 L198.0,221.4 L198.1,238.8 L198.3,223.5 L198.5,239.3 L198.6,214.3 L198.8,240.6 L198.9,219.4 L199.1,240.8 L199.3,229.2 L199.4,238.9 L199.6,226.6 L199.7,236.4 L199.9,219.0 L200.1,234.7 L200.2,222.0 L200.4,239.6 L200.5,221.0 L200.7,236.0" fill="none" stroke="#3c8c28" stroke-width="0.7" stroke-linejoin="round"/>
<path d="M190.0,238.7 L190.5,236.0 L191.0,235.4 L191.5,232.8 L192.0,233.4 L192.5,232.9 L193.0,233.9 L193.5,235.1 L194.0,237.1 L194.5,236.0 L195.0,233.1 L195.5,231.3 L196.0,230.4 L196.5,230.2 L197.0,232.8 L197.5,235.5 L198.0,236.8 L198.6,235.5 L199.1,238.7 L199.7,238.1 L200.2,240.6 L200.8,239.6 L201.3,239.5 L201.9,240.9 L202.4,242.3 L202.9,241.3 L203.5,243.0 L204.0,242.9 L204.5,242.8 L205.0,243.6 L205.5,245.1 L206.0,245.7 L206.6,246.4 L207.1,248.0 L207.7,249.5 L208.2,249.4 L208.8,248.9 L209.3,249.9 L209.8,251.4 L210.4,253.2 L210.9,252.8 L211.4,253.7 L211.9,256.0 L212.4,257.5 L213.0,258.3 L213.5,261.4 L214.0,265.7 L214.5,267.7 L215.0,262.7" fill="none" stroke="#3c8c28" stroke-width="1.0" stroke-linejoin="round"/>
<path d="M215.6,251.7 L216.1,241.2 L216.6,230.8 L217.1,222.1 L217.5,215.5 L217.9,211.0 L218.4,210.4 L218.8,206.0 L219.3,215.8 L219.8,226.6 L220.2,227.7 L220.6,230.4 L221.1,235.3 L221.5,237.5 L221.9,239.0 L222.3,241.3 L222.7,244.8 L223.2,246.3 L223.6,251.4 L224.0,252.0 L224.4,255.2 L224.8,258.4 L225.3,261.8 L225.7,264.5 L226.1,268.0 L226.6,271.8 L227.0,274.8" fill="none" stroke="#3c8c28" stroke-width="1.0" stroke-linejoin="round"/>
<path d="M216.0,238.4 L216.5,234.4 L217.0,225.8 L217.5,228.3 L218.0,234.8 L218.5,226.0 L219.0,217.0 L219.5,225.8 L220.0,238.0 L220.5,233.9 L221.0,227.7 L221.4,235.4 L221.8,240.9 L222.2,244.7 L222.6,250.9 L223.0,257.3 L223.4,259.0 L223.8,256.7 L224.3,257.9 L224.7,257.1 L225.1,259.7 L225.5,257.7 L225.9,261.8 L226.4,260.5 L226.8,261.2 L227.2,259.6 L227.6,259.5 L228.1,259.6 L228.5,260.4" fill="none" stroke="#3c8c28" stroke-width="0.9" stroke-linejoin="round"/>
<path d="M200.6,225.6 L206.0,226.3 L208.3,228.6 L211.3,234.0 L214.4,238.6 L216.0,245.0" fill="none" stroke="#3c8c28" stroke-width="1.0" stroke-linejoin="round"/>
<path d="M214.0,240.2 L214.4,237.1 L214.8,239.7 L215.2,236.2 L215.6,233.8 L216.0,230.2 L216.5,227.3 L217.0,227.4 L217.5,217.8 L218.0,215.2 L218.5,211.4 L219.0,205.5 L219.5,210.8 L220.0,214.5 L220.5,220.6 L221.0,226.4 L221.5,230.7 L222.0,237.4 L222.5,244.6 L223.0,248.9" fill="none" stroke="#3c8c28" stroke-width="1.0" stroke-linejoin="round"/>
<path d="M216.0,244.0 L217.5,249.2 L222.0,255.3 L225.2,263.0 L226.7,278.3 L227.5,286.0 L227.5,297.3 L229.8,309.6 L231.3,314.2 L235.9,318.8 L242.0,319.6 L250.0,318.8 L258.0,319.6 L262.6,318.8 L264.9,316.5 L265.7,314.2 L265.7,240.0" fill="none" stroke="#3c8c28" stroke-width="1.1" stroke-linejoin="round"/>
<path d="M228.2,258.4 L230.0,260.0 L232.0,263.0 L232.8,283.0 L233.6,296.0 L233.6,305.0 L235.9,311.1 L240.5,315.0 L245.0,318.0 L250.0,317.5" fill="none" stroke="#3c8c28" stroke-width="1.0" stroke-linejoin="round"/>
<path d="M227.0,284.5 L229.8,285.0 L233.0,284.0" fill="none" stroke="#3c8c28" stroke-width="1.0" stroke-linejoin="round"/>
<path d="M235.0,311.0 L238.0,314.2 L242.7,317.3 L249.6,315.7 L250.3,305.0 L251.9,294.3 L253.4,291.2 L255.0,292.5 L258.0,283.5 L258.8,263.0 L258.8,244.0 L259.5,211.8 L261.8,211.0 L263.4,214.0 L264.9,211.0 L266.4,210.2 L267.2,218.7 L268.7,220.2 L271.8,214.0 L274.9,217.1 L279.5,219.4 L282.5,221.0 L287.1,223.3 L290.2,225.6 L292.5,228.6 L294.8,224.0 L297.9,222.5 L301.0,224.8 L303.3,227.9 L304.0,235.0" fill="none" stroke="#3c8c28" stroke-width="1.1" stroke-linejoin="round"/>
<path d="M251.9,296.0 L255.0,290.6 L258.0,281.4 L258.8,263.0 L258.8,236.0 L259.9,241.4 L261.0,243.6 L263.1,246.9 L265.3,244.7 L267.5,242.5 L270.8,241.4 L273.0,240.3 L276.3,239.2 L278.5,240.3 L280.7,242.5 L282.9,240.3 L285.0,238.1 L286.1,243.6 L287.8,245.8 L290.5,248.0 L292.7,251.3 L294.9,253.5 L297.1,252.9 L299.3,251.3 L300.9,241.4 L301.5,236.0 L302.0,230.0" fill="none" stroke="#3c8c28" stroke-width="1.1" stroke-linejoin="round"/>
<path d="M259.9,240.2 L260.3,243.6 L260.6,241.7 L261.0,244.9 L261.4,245.9 L261.7,243.2 L262.1,246.9 L262.4,245.4 L262.8,245.2 L263.1,245.6 L263.5,244.7 L263.8,246.2 L264.2,245.3 L264.6,246.8 L264.9,246.4 L265.3,242.9 L265.7,243.9 L266.0,243.5 L266.4,242.3 L266.8,242.2 L267.1,241.9 L267.5,243.3 L267.9,241.7 L268.2,240.7 L268.6,241.0 L269.0,241.8 L269.3,242.1 L269.7,240.7 L270.1,242.4 L270.4,240.4 L270.8,242.1 L271.2,241.7 L271.5,239.7 L271.9,241.9 L272.3,240.2 L272.6,240.6 L273.0,240.7 L273.4,240.7 L273.7,239.8 L274.1,238.2 L274.5,241.0 L274.8,241.1 L275.2,239.5 L275.6,239.8 L275.9,238.4 L276.3,240.8 L276.7,240.1 L277.0,238.5 L277.4,241.0 L277.8,241.9 L278.1,239.5 L278.5,242.3 L278.9,240.6 L279.2,239.7 L279.6,242.3 L280.0,241.1 L280.3,243.1 L280.7,242.8 L281.1,240.6 L281.4,241.9 L281.8,242.8 L282.2,240.9 L282.5,240.8 L282.9,241.8 L283.2,239.7 L283.6,239.5 L283.9,239.5 L284.3,240.1 L284.6,237.3 L285.0,236.5 L285.4,241.0 L285.7,242.0 L286.1,242.8 L286.5,245.7 L287.0,246.2 L287.4,245.4 L287.8,247.8 L288.2,247.5 L288.6,247.4 L289.0,245.9 L289.3,245.1 L289.7,248.1 L290.1,248.6 L290.5,247.4 L290.9,248.5 L291.2,249.4 L291.6,248.6 L292.0,251.0 L292.3,251.0 L292.7,250.8 L293.1,250.1 L293.4,252.2 L293.8,251.7 L294.2,253.7 L294.5,251.8 L294.9,253.1" fill="none" stroke="#3c8c28" stroke-width="1.0" stroke-linejoin="round"/>
<path d="M260.0,241.0 L260.4,242.2 L260.8,243.2 L261.1,242.2 L261.5,242.6 L261.9,244.4 L262.2,244.0 L262.6,245.5 L263.0,244.9 L263.4,244.4 L263.7,245.6 L264.1,246.5 L264.5,246.1 L264.8,244.7 L265.2,244.0 L265.5,242.7 L265.9,243.1 L266.3,243.0 L266.6,244.7 L267.0,241.8 L267.4,244.3 L267.7,242.6 L268.1,242.4 L268.4,241.7 L268.8,243.8 L269.1,241.1 L269.5,242.2 L269.9,241.9 L270.2,240.8 L270.6,240.7 L270.9,243.0 L271.3,242.2 L271.6,241.9 L272.0,242.3 L272.4,239.6 L272.7,241.5 L273.1,241.6 L273.4,239.8 L273.8,240.5 L274.1,242.1 L274.5,239.9 L274.9,241.3 L275.2,239.3 L275.6,240.8 L275.9,239.5 L276.3,240.2 L276.6,239.7 L277.0,241.2 L277.4,240.9 L277.7,240.2 L278.1,240.8 L278.4,240.1 L278.8,241.3 L279.1,239.7 L279.5,240.6 L279.9,240.8 L280.2,240.3 L280.6,239.3 L280.9,239.7 L281.3,241.3 L281.6,240.0 L282.0,241.8 L282.4,240.9 L282.8,242.2 L283.1,241.7 L283.5,241.2 L283.9,240.0 L284.2,238.8 L284.6,240.3 L285.0,240.8 L285.4,242.3 L285.8,241.0 L286.2,241.9 L286.6,245.5 L287.0,245.8 L287.4,245.2 L287.8,246.3 L288.1,244.6 L288.5,246.1 L288.9,246.8 L289.2,246.8 L289.6,245.7 L290.0,245.8 L290.4,247.9 L290.8,249.2 L291.1,247.3 L291.5,247.4 L291.9,248.2 L292.2,250.9 L292.6,250.2 L293.0,250.9" fill="none" stroke="#3c8c28" stroke-width="0.9" stroke-linejoin="round"/>
<path d="M270.3,225.0 L270.3,233.8 L271.9,237.0 L276.3,238.7 L279.0,239.5" fill="none" stroke="#3c8c28" stroke-width="0.9" stroke-linejoin="round"/>
<path d="M265.7,244.0 L266.4,224.8 L268.0,218.7 L269.5,224.8 L271.0,234.0 L273.3,237.8 L278.0,239.4 L282.5,241.0 L287.1,241.7 L291.0,243.0" fill="none" stroke="#3c8c28" stroke-width="1.0" stroke-linejoin="round"/>
<path d="M265.7,240.0 L265.7,314.0" fill="none" stroke="#3c8c28" stroke-width="0.8" stroke-linejoin="round" stroke-opacity="0.8"/>
<path d="M258.0,283.0 L258.0,319.0" fill="none" stroke="#3c8c28" stroke-width="0.6" stroke-linejoin="round" stroke-opacity="0.6"/>
<path d="M293.3,253.8 L294.8,260.0 L299.4,267.6 L303.3,272.2 L304.0,276.8 L305.0,265.0" fill="none" stroke="#3c8c28" stroke-width="1.0" stroke-linejoin="round"/>
<path d="M302.0,245.0 L302.5,255.3 L305.6,263.0 L307.9,275.3 L309.4,290.6 L310.2,297.3 L312.5,308.8 L315.5,312.7 L317.0,315.0 L319.4,312.7 L320.9,305.0 L322.0,312.0 L324.0,312.7 L327.0,314.2 L328.6,312.7" fill="none" stroke="#3c8c28" stroke-width="1.1" stroke-linejoin="round"/>
<path d="M304.0,244.0 L306.3,208.0 L307.5,230.0 L308.5,244.0 L309.5,240.0 L310.2,209.5 L311.5,222.0 L312.5,244.0 L314.0,278.3 L315.5,286.0 L316.0,295.0 L317.0,300.0" fill="none" stroke="#3c8c28" stroke-width="1.1" stroke-linejoin="round"/>
<path d="M311.7,260.0 L314.0,278.3 L315.5,286.0 L316.5,296.0 L317.0,278.3 L318.6,258.4 L320.1,254.6 L321.7,259.2 L324.0,257.6 L326.3,254.6 L327.8,252.3" fill="none" stroke="#3c8c28" stroke-width="1.1" stroke-linejoin="round"/>
<path d="M322.4,289.7 L323.0,300.0 L324.5,308.0 L327.0,312.0 L328.6,313.0" fill="none" stroke="#3c8c28" stroke-width="1.0" stroke-linejoin="round"/>
<path d="M301.0,250.0 L301.5,244.0" fill="none" stroke="#3c8c28" stroke-width="1.0" stroke-linejoin="round"/>
<path d="M346.3,215.6 L348.6,211.0 L353.2,209.5 L359.3,209.5 L362.4,211.8 L363.9,226.3 L365.5,244.0 L365.5,267.6 L367.0,279.9 L368.5,291.4" fill="none" stroke="#3c8c28" stroke-width="1.1" stroke-linejoin="round"/>
<path d="M346.0,213.0 L347.0,214.0 L351.0,215.0 L354.5,217.0 L355.5,228.0 L357.0,240.0 L358.5,247.0 L361.0,250.0 L363.6,251.8 L364.7,255.3 L365.5,267.6 L367.0,280.0" fill="none" stroke="#3c8c28" stroke-width="1.0" stroke-linejoin="round"/>
<path d="M346.0,215.0 L349.0,219.0 L351.0,226.0 L353.0,236.0 L355.0,244.0 L357.0,248.0 L360.0,250.0" fill="none" stroke="#3c8c28" stroke-width="0.8" stroke-linejoin="round" stroke-opacity="0.8"/>
<path d="M367.0,244.0 L367.0,204.9 L370.1,201.8 L374.7,200.3 L380.8,198.7 L387.0,197.2 L394.6,196.4 L400.7,196.4 L403.8,198.0 L408.4,199.5 L414.6,200.3 L419.2,201.8 L423.8,208.0 L426.8,210.2 L431.4,211.8 L436.0,214.8 L436.8,218.7 L440.6,220.2 L445.3,221.0 L450.7,221.0" fill="none" stroke="#3c8c28" stroke-width="1.2" stroke-linejoin="round"/>
<path d="M368.5,244.0 L368.5,208.0 L371.6,204.1 L376.2,203.3 L379.3,205.6 L383.9,202.6 L390.0,200.3 L396.1,198.7 L400.7,198.7 L403.0,203.0 L405.3,209.5 L407.0,204.0 L410.0,203.3 L414.6,204.1 L417.6,206.0 L417.6,215.6" fill="none" stroke="#3c8c28" stroke-width="1.1" stroke-linejoin="round"/>
<path d="M371.6,244.0 L371.6,210.2 L375.0,209.5 L380.8,208.7 L387.0,206.4 L394.6,201.8 L399.2,199.5 L402.0,200.0 L408.0,202.0 L414.0,203.0 L419.0,204.0" fill="none" stroke="#3c8c28" stroke-width="1.0" stroke-linejoin="round"/>
<path d="M367.8,267.6 L369.3,272.2 L371.6,263.0 L372.0,244.0" fill="none" stroke="#3c8c28" stroke-width="1.0" stroke-linejoin="round"/>
<path d="M416.0,207.0 L416.3,214.7 L416.6,201.8 L416.9,215.7 L417.2,200.0 L417.5,211.1 L417.8,204.9 L418.1,209.9 L418.4,200.2 L418.7,213.7 L419.0,202.3 L419.3,218.7 L419.6,200.7 L419.9,216.8 L420.2,202.7 L420.5,216.9 L420.8,203.1 L421.1,215.3 L421.4,202.3 L421.7,210.5 L422.0,203.2 L422.3,216.8 L422.6,202.4 L422.9,210.5 L423.2,202.9 L423.5,209.1 L423.8,202.2 L424.1,214.3 L424.4,203.8 L424.7,214.6" fill="none" stroke="#3c8c28" stroke-width="0.6" stroke-linejoin="round" stroke-opacity="0.75"/>
<path d="M423.0,205.0 L424.0,220.7 L425.9,227.4 L428.8,227.4 L432.6,224.5 L436.4,223.6 L440.3,226.4 L444.1,228.4 L447.0,236.0 L448.9,247.5 L449.9,255.2" fill="none" stroke="#3c8c28" stroke-width="1.1" stroke-linejoin="round"/>
<path d="M430.0,211.2 L430.5,210.7 L431.0,211.0 L431.5,212.3 L432.0,212.2 L432.6,213.7 L433.1,213.1 L433.6,214.9 L434.1,214.8 L434.6,215.3 L435.1,217.3 L435.6,218.5 L436.1,220.0 L436.6,219.6 L437.1,218.9 L437.6,221.1 L438.1,220.2 L438.7,219.0 L439.2,221.5 L439.7,220.4 L440.2,220.6 L440.7,220.0 L441.2,219.2 L441.7,221.9 L442.2,219.5 L442.7,220.2 L443.3,222.1 L443.8,219.6 L444.3,220.8 L444.8,220.9 L445.3,220.2 L445.8,222.3 L446.4,220.7 L446.9,219.5 L447.5,220.9 L448.0,219.5 L448.5,221.6 L449.1,222.1 L449.6,222.2 L450.2,219.6 L450.7,221.5" fill="none" stroke="#3c8c28" stroke-width="1.0" stroke-linejoin="round"/>
<path d="M436.1,219.7 L436.6,220.4 L437.1,220.3 L437.6,220.7 L438.1,220.6 L438.7,222.1 L439.2,221.1 L439.7,223.5 L440.2,221.6 L440.7,224.1 L441.2,222.6 L441.7,222.7 L442.2,224.7 L442.7,224.5 L443.3,225.5 L443.8,225.2 L444.3,225.9 L444.8,224.9 L445.3,226.7 L445.8,226.4 L446.4,227.5 L446.9,225.3 L447.5,225.5 L448.0,227.1 L448.5,227.7 L449.1,226.6 L449.6,227.4 L450.2,227.1 L450.7,226.7" fill="none" stroke="#3c8c28" stroke-width="1.0" stroke-linejoin="round"/>
<path d="M425.9,227.4 L426.9,239.9 L427.8,243.7 L430.7,241.8 L433.6,238.9 L434.5,228.4 L436.0,224.0" fill="none" stroke="#3c8c28" stroke-width="1.0" stroke-linejoin="round"/>
<path d="M474.5,201.7 L475.2,201.6 L475.8,200.0 L476.5,200.1 L477.1,200.5 L477.8,199.1 L478.4,199.1 L479.1,198.2 L479.8,198.2 L480.4,198.6 L481.1,198.5 L481.7,198.8 L482.4,197.6 L483.0,196.8 L483.7,196.9 L484.3,196.2 L484.9,196.5 L485.5,197.1 L486.1,197.1 L486.8,196.3 L487.4,196.1 L488.0,195.8 L488.6,195.9 L489.2,196.5 L489.8,195.9 L490.5,197.5 L491.1,197.2 L491.8,197.1 L492.4,197.6 L493.1,197.1 L493.7,198.8 L494.4,199.2 L495.0,199.0 L495.6,200.4 L496.3,200.1 L496.9,200.6 L497.5,201.3 L498.2,201.4 L498.8,202.4 L499.5,202.7 L500.1,203.1 L500.8,202.1 L501.4,203.6 L502.1,203.3 L502.7,203.4 L503.3,203.9 L503.9,204.1 L504.5,203.9 L505.1,204.6 L505.8,205.5 L506.4,205.9 L507.0,206.6 L507.6,205.5 L508.2,207.2 L508.8,208.2 L509.4,209.3 L510.1,211.0 L510.7,210.6 L511.3,213.1 L511.9,214.5 L512.5,214.2 L513.2,216.4 L513.8,218.4 L514.4,218.3 L515.0,219.3 L515.6,219.2 L516.2,218.1 L516.8,217.4 L517.4,217.3 L518.2,229.6 L519.0,239.8 L519.6,242.7 L520.2,246.0 L520.8,250.0 L521.4,251.7 L522.0,254.3 L522.8,263.9 L523.6,270.3 L524.3,277.4 L525.0,285.5 L525.9,295.6" fill="none" stroke="#3c8c28" stroke-width="1.2" stroke-linejoin="round"/>
<path d="M474.5,201.2 L474.9,204.6 L475.3,201.6 L475.8,201.3 L476.2,204.3 L476.6,201.0 L477.0,203.8 L477.5,201.2 L477.9,200.9 L478.3,200.4 L478.7,201.6 L479.2,201.6 L479.6,200.7 L480.0,201.0 L480.4,200.0 L480.8,202.4 L481.2,202.7 L481.6,201.8 L482.0,202.1 L482.4,198.7 L482.8,199.4 L483.2,199.2 L483.6,198.9 L484.0,202.4 L484.4,202.0 L484.8,202.0 L485.2,200.4 L485.6,198.4 L486.0,199.7 L486.4,198.1 L486.8,201.9 L487.2,199.2 L487.6,199.3 L488.0,202.3 L488.4,199.1 L488.8,202.3 L489.2,199.7 L489.6,201.3 L490.0,198.9 L490.4,202.5 L490.8,200.4 L491.2,200.2 L491.6,201.6 L492.0,201.4 L492.4,200.0 L492.8,199.5 L493.2,201.6 L493.6,199.3 L494.0,203.1 L494.4,200.9 L494.8,200.2 L495.2,201.0 L495.6,200.2 L496.0,201.2" fill="none" stroke="#3c8c28" stroke-width="1.1" stroke-linejoin="round"/>
<path d="M474.5,226.5 L475.0,223.9 L475.5,221.6 L476.0,219.4 L476.5,222.1 L477.0,225.2 L477.5,225.8 L478.0,229.1 L478.5,226.7 L479.0,224.0 L479.6,222.9 L480.1,224.4 L480.6,221.6 L481.2,223.3 L481.8,225.9 L482.4,229.3 L483.0,229.5 L483.5,228.7 L484.1,228.0 L484.6,225.8 L485.1,227.2 L485.6,226.2 L486.2,225.5 L486.7,224.6 L487.3,227.4 L487.9,231.0 L488.4,231.6 L489.0,237.4 L489.6,232.8 L490.1,234.7 L490.7,230.8 L491.3,232.2 L491.9,231.9 L492.5,233.1 L493.1,236.9 L493.7,240.0 L494.4,236.7 L495.0,233.5 L495.5,233.8 L496.0,229.9 L496.5,231.0 L497.0,229.8 L497.5,232.2 L498.0,230.8 L498.5,231.6 L499.0,231.5 L499.5,232.0 L500.0,230.4 L500.5,230.8 L501.0,229.2 L501.5,227.7 L502.0,231.2 L502.5,228.4 L503.0,228.7 L503.5,232.0 L504.0,230.1 L504.5,232.5 L505.0,230.8 L505.5,232.3 L506.0,235.2 L506.5,233.3 L507.0,236.0 L507.5,238.5 L508.0,236.4 L508.5,239.1 L509.0,240.0 L509.5,239.3 L510.0,239.7 L510.5,239.3 L511.0,236.4 L511.5,236.9 L512.0,238.1 L512.5,240.0 L513.0,237.2 L513.5,238.8 L514.0,237.2 L514.5,240.2 L515.0,238.8 L515.5,238.3 L516.0,238.2 L516.5,235.3 L517.0,236.9" fill="none" stroke="#3c8c28" stroke-width="1.0" stroke-linejoin="round"/>
<path d="M496.0,236.3 L496.4,236.1 L496.8,233.0 L497.2,232.3 L497.6,231.5 L498.0,234.3 L498.4,231.7 L498.8,231.0 L499.2,231.1 L499.6,231.4 L500.0,229.2 L500.4,229.6 L500.8,231.8 L501.2,232.1 L501.6,230.3 L502.0,229.6 L502.4,233.7 L502.8,233.1 L503.2,232.8 L503.6,232.3 L504.0,235.0 L504.4,233.2 L504.8,232.8 L505.2,232.7 L505.6,234.3 L506.0,235.9 L506.4,235.4 L506.8,238.5 L507.2,237.7 L507.6,237.3 L508.0,238.7 L508.4,238.6 L508.8,238.9 L509.2,238.6 L509.6,238.9 L510.0,239.0 L510.4,240.7 L510.8,238.0 L511.2,240.9 L511.6,238.9 L512.0,241.5" fill="none" stroke="#3c8c28" stroke-width="0.8" stroke-linejoin="round"/>
<path d="M496.0,200.0 L498.0,230.0 L498.0,250.0" fill="none" stroke="#3c8c28" stroke-width="0.9" stroke-linejoin="round"/>
<path d="M490.6,240.0 L490.6,251.5" fill="none" stroke="#3c8c28" stroke-width="0.9" stroke-linejoin="round"/>
<path d="M497.5,201.8 L502.0,206.4 L505.0,211.0 L506.0,230.0 L505.9,255.3 L506.7,269.1" fill="none" stroke="#3c8c28" stroke-width="1.0" stroke-linejoin="round"/>
<path d="M502.0,205.0 L506.7,211.0 L509.0,225.0 L511.0,244.0 L512.0,250.0" fill="none" stroke="#3c8c28" stroke-width="1.0" stroke-linejoin="round"/>
<path d="M520.0,218.7 L524.6,217.1 L529.2,216.4 L530.7,219.0 L532.0,216.4 L536.9,215.6 L541.5,217.1 L543.8,220.2 L544.5,224.8 L544.5,243.0 L543.0,246.9 L536.9,246.9 L533.8,244.6 L530.7,240.0 L527.7,229.4 L524.6,223.3 L520.0,220.0" fill="none" stroke="#3c8c28" stroke-width="1.1" stroke-linejoin="round"/>
<path d="M521.5,254.4 L522.0,261.4 L522.5,267.5 L523.0,274.1 L523.5,276.7 L524.1,280.4 L524.6,283.8 L525.1,287.2 L525.6,289.7 L526.1,291.1 L527.0,295.4" fill="none" stroke="#3c8c28" stroke-width="1.0" stroke-linejoin="round"/>
<path d="M526.1,276.8 L526.5,279.3 L527.0,275.4 L527.4,274.7 L527.9,272.0 L528.3,272.5 L528.8,272.0 L529.2,270.0 L529.6,267.5 L530.1,270.6 L530.5,271.7 L531.0,270.4 L531.4,275.0 L531.9,273.5 L532.3,274.3 L532.7,276.6 L533.2,277.0 L533.6,277.3 L534.0,279.7 L534.4,278.7 L534.9,278.5 L535.3,277.7 L535.7,280.4 L536.2,279.6 L536.6,280.7 L537.1,280.0 L537.5,278.5 L538.0,278.9 L538.4,279.7 L538.8,278.3 L539.3,281.0 L539.7,278.5 L540.2,275.7 L540.6,277.0 L541.1,275.5 L541.5,271.5 L542.0,271.9 L542.4,266.2 L542.9,267.0 L543.3,259.7 L543.8,257.3 L544.3,251.0 L544.8,247.9 L545.3,241.6" fill="none" stroke="#3c8c28" stroke-width="1.1" stroke-linejoin="round"/>
<path d="M522.0,285.5 L522.4,283.4 L522.8,285.6 L523.2,287.7 L523.6,284.3 L524.0,290.0 L524.4,290.0 L524.8,291.1 L525.2,290.2 L525.6,290.2 L526.0,292.9 L526.4,288.2 L526.8,288.0 L527.2,286.5 L527.6,286.5 L528.0,289.8 L528.4,285.2 L528.8,288.7 L529.2,286.2 L529.6,288.7 L530.0,287.6 L530.4,287.4 L530.8,288.7 L531.2,284.2 L531.6,285.8 L532.0,286.7 L532.4,287.4 L532.8,289.1 L533.2,290.7 L533.6,290.1 L534.0,291.6 L534.4,290.0 L534.8,287.7 L535.2,288.4 L535.6,289.7 L536.0,289.9 L536.4,287.0 L536.8,286.7 L537.2,288.1 L537.6,285.6 L538.0,289.3" fill="none" stroke="#3c8c28" stroke-width="1.0" stroke-linejoin="round"/>
<path d="M524.5,266.0 L524.8,282.7 L525.1,274.0 L525.4,292.4 L525.7,274.2 L526.0,282.3 L526.3,277.6 L526.6,290.6 L526.9,271.5 L527.2,282.9 L527.5,276.6 L527.8,285.0 L528.1,270.2 L528.4,285.3 L528.7,273.8 L529.0,287.2 L529.3,270.0 L529.6,290.6 L529.9,269.9 L530.2,291.5 L530.5,275.1 L530.8,287.3 L531.1,271.2 L531.4,289.1 L531.7,276.5 L532.0,288.0 L532.3,279.2 L532.6,291.9 L532.9,266.4 L533.2,288.2 L533.5,270.3 L533.8,287.4 L534.1,269.6 L534.4,286.6 L534.7,276.6 L535.0,282.3 L535.3,278.0 L535.6,281.2 L535.9,277.5 L536.2,282.9 L536.5,266.8 L536.8,284.2 L537.1,270.4 L537.4,287.0 L537.7,271.6 L538.0,278.7 L538.3,269.5 L538.6,283.4 L538.9,278.0 L539.2,285.6 L539.5,277.6 L539.8,281.2 L540.1,271.7 L540.4,278.0 L540.7,268.7 L541.0,280.0 L541.3,268.4" fill="none" stroke="#3c8c28" stroke-width="0.6" stroke-linejoin="round" stroke-opacity="0.9"/>
<path d="M545.3,240.0 L545.3,270.7" fill="none" stroke="#3c8c28" stroke-width="0.9" stroke-linejoin="round"/>
<path d="M546.1,239.5 L546.1,219.5 L546.9,213.3 L547.6,208.6 L548.2,208.2 L548.8,206.9 L549.5,207.5 L550.1,206.6 L550.7,206.0 L551.3,205.4 L551.9,206.1 L552.5,205.6 L553.1,204.9 L553.7,205.4 L554.5,203.1 L555.2,202.2 L556.0,200.3 L556.8,203.3 L557.5,206.6 L558.3,206.1 L559.1,205.7 L559.9,206.0 L560.5,206.4 L561.2,205.5 L561.8,206.3 L562.4,204.7 L563.1,205.7 L563.7,205.1 L564.5,201.5 L565.1,201.2 L565.7,201.2 L566.3,201.9 L566.9,203.0 L567.5,202.5 L568.1,203.6 L568.7,205.6 L569.4,206.7 L570.0,207.6 L570.6,208.5 L571.3,208.4 L571.9,209.2 L572.6,209.3 L573.2,209.3 L573.9,209.5 L574.5,209.1 L575.2,209.5 L575.8,210.0 L576.4,210.5 L577.0,210.1 L577.6,211.6 L578.2,211.1 L578.9,211.5 L579.5,211.9 L580.1,211.0 L580.7,212.3 L581.3,212.5 L581.9,211.7 L582.5,211.8 L583.2,213.2 L583.8,213.6 L584.4,213.8 L585.0,213.5 L585.6,214.1 L586.3,213.6 L586.9,214.1 L587.5,214.7 L588.1,215.1 L588.7,214.0 L589.3,215.2 L589.9,213.7 L590.5,215.2 L591.2,213.9 L591.8,214.8 L592.4,214.7 L593.0,214.8 L593.6,214.0 L594.5,206.3 L595.5,213.7 L596.1,214.9 L596.7,214.1 L597.3,215.6 L598.0,215.5 L598.6,215.0 L599.2,216.8 L599.8,216.1 L600.5,216.1 L601.1,216.9 L601.8,216.9 L602.4,217.8 L603.1,218.9 L603.7,219.8 L604.4,219.6 L605.1,220.5 L605.7,221.0 L606.4,221.4 L607.0,221.4 L607.7,221.8 L608.3,222.2 L609.0,223.4 L609.6,224.0 L610.2,226.1 L610.8,226.7 L611.4,228.3 L612.0,229.5" fill="none" stroke="#3c8c28" stroke-width="1.2" stroke-linejoin="round"/>
<path d="M547.0,210.4 L547.4,208.2 L547.8,207.8 L548.2,208.5 L548.6,206.3 L549.0,207.0 L549.4,207.9 L549.7,205.9 L550.1,207.6 L550.5,206.3 L550.8,207.2 L551.2,205.8 L551.5,206.4 L551.9,206.0 L552.3,204.3 L552.6,205.2 L553.0,205.3 L553.4,204.6 L553.8,205.0 L554.1,205.6 L554.5,204.9 L554.9,204.7 L555.2,202.4 L555.6,203.9 L556.0,203.4 L556.4,204.7 L556.7,202.0 L557.1,202.8 L557.5,205.6 L557.8,204.0 L558.2,205.3 L558.5,205.2 L558.9,204.9 L559.3,205.3 L559.6,205.9 L560.0,207.6 L560.4,205.9 L560.7,206.6 L561.1,204.8 L561.5,206.0 L561.8,205.4 L562.2,205.7 L562.5,205.9 L562.9,203.2 L563.3,205.9 L563.6,204.5 L564.0,203.2 L564.4,204.0 L564.7,202.9 L565.1,203.4 L565.5,205.4 L565.8,205.1 L566.2,205.7 L566.5,203.6 L566.9,203.5 L567.3,204.4 L567.6,204.9 L568.0,205.7 L568.4,204.7 L568.7,206.5 L569.1,206.4 L569.5,205.8 L569.8,207.7 L570.2,205.8 L570.5,207.8 L570.9,206.9 L571.3,206.8 L571.6,208.6 L572.0,209.1 L572.4,209.5 L572.7,209.0 L573.1,210.9 L573.5,210.6 L573.8,208.8 L574.2,208.5 L574.5,211.7 L574.9,210.2 L575.3,209.4 L575.6,209.8 L576.0,211.6 L576.4,210.1 L576.7,210.8 L577.1,211.9 L577.4,211.0 L577.8,212.0 L578.1,213.1 L578.5,212.7 L578.9,212.3 L579.2,212.4 L579.6,211.5 L579.9,212.6 L580.3,212.8 L580.6,212.7 L581.0,212.5 L581.4,213.5 L581.7,211.9 L582.1,213.7 L582.4,214.7 L582.8,211.9 L583.1,212.8 L583.5,215.3 L583.9,212.6 L584.2,215.1 L584.6,214.5 L584.9,213.1 L585.3,215.1 L585.6,213.2 L586.0,216.1 L586.4,214.5 L586.7,216.5 L587.1,216.5 L587.5,214.2 L587.8,215.1 L588.2,214.4 L588.5,216.5 L588.9,214.4 L589.3,214.5 L589.6,214.7 L590.0,217.1 L590.4,215.3 L590.7,215.6 L591.1,216.0 L591.4,216.5 L591.8,216.1 L592.1,217.9 L592.5,216.0 L592.9,216.5 L593.2,217.8 L593.6,215.9 L593.9,215.7 L594.3,217.9 L594.6,216.3 L595.0,218.3 L595.4,218.1 L595.7,216.7 L596.1,216.7 L596.4,216.0 L596.8,218.6 L597.1,217.2 L597.5,217.0 L597.9,216.5 L598.2,216.8 L598.6,218.9 L598.9,216.6 L599.3,218.0 L599.6,218.3 L600.0,218.1 L600.4,218.2 L600.7,218.1 L601.1,217.7 L601.4,219.9 L601.8,220.3 L602.1,219.5 L602.5,218.7 L602.9,221.0 L603.2,219.0 L603.6,219.1 L603.9,220.8 L604.3,221.6 L604.6,221.0 L605.0,219.8 L605.4,222.9 L605.7,220.6 L606.1,221.6 L606.4,224.0 L606.8,223.7 L607.1,224.0 L607.5,222.1 L607.9,225.0 L608.2,223.9 L608.6,223.0 L608.9,225.9 L609.3,226.7 L609.6,224.2 L610.0,225.9 L610.4,227.7 L610.8,226.3 L611.2,226.6 L611.6,228.5 L612.0,227.8" fill="none" stroke="#3c8c28" stroke-width="0.8" stroke-linejoin="round"/>
<path d="M580.0,225.8 L580.4,225.0 L580.8,224.8 L581.1,224.0 L581.5,221.9 L581.9,223.4 L582.2,222.8 L582.6,222.2 L583.0,222.2 L583.4,221.8 L583.8,221.9 L584.1,225.0 L584.5,223.5 L584.9,223.1 L585.2,226.7 L585.6,225.5 L586.0,226.6 L586.4,224.7 L586.8,223.2 L587.1,223.1 L587.5,224.2 L587.9,221.4 L588.2,223.0 L588.6,220.0 L589.0,221.4 L589.4,219.6 L589.8,221.3 L590.1,220.9 L590.5,221.7 L590.9,223.8 L591.2,224.0 L591.6,225.4 L592.0,225.0 L592.4,224.8 L592.8,224.4 L593.1,225.9 L593.5,222.5 L593.9,223.2 L594.2,224.3 L594.6,222.8 L595.0,221.1 L595.4,224.5 L595.8,222.1 L596.1,222.9 L596.5,223.3 L596.9,225.5 L597.2,227.8 L597.6,226.5 L598.0,227.2 L598.4,229.9 L598.8,228.1 L599.2,228.7 L599.6,231.8 L600.0,230.5 L600.4,232.8 L600.8,232.2 L601.1,234.6 L601.5,236.3 L601.9,235.6 L602.2,235.7 L602.6,237.7 L603.0,238.7 L603.4,236.7 L603.8,237.6 L604.1,238.3 L604.5,239.0 L604.9,238.4 L605.2,240.1 L605.6,238.9 L606.0,241.5 L606.4,238.7 L606.8,237.4 L607.2,236.1 L607.6,235.5 L608.0,235.0 L608.4,238.4 L608.8,237.7 L609.2,238.8 L609.6,241.7 L610.0,242.7 L610.4,242.3 L610.8,240.7 L611.2,241.3 L611.6,242.3 L612.0,241.7" fill="none" stroke="#3c8c28" stroke-width="0.9" stroke-linejoin="round"/>
<path d="M547.6,208.5 L548.2,208.0 L548.7,207.9 L549.3,209.2 L549.9,208.6 L550.4,208.0 L551.0,207.9 L551.5,208.7 L552.1,209.4 L552.6,207.8 L553.2,210.6 L553.7,209.9 L554.2,210.2 L554.7,212.7 L555.2,212.8 L555.8,212.2 L556.3,211.9 L556.8,213.8 L557.3,214.6 L557.8,215.2 L558.3,215.1 L558.9,217.4 L559.4,217.2 L559.9,219.5 L560.5,221.1 L561.0,222.7 L561.6,226.6 L562.2,227.7 L562.9,220.2 L563.5,214.3 L564.0,210.7 L564.5,208.8 L565.0,210.6 L565.5,211.0 L566.0,210.5 L566.5,210.2 L567.0,211.7 L567.5,212.9 L568.0,214.6 L568.5,217.7 L569.0,218.1 L569.6,221.7 L570.1,223.8 L570.6,226.8 L571.1,229.6 L571.6,230.6 L572.2,233.5 L572.7,234.8 L573.2,237.7 L573.7,240.5 L574.4,243.7 L575.0,250.0 L575.5,252.0 L576.0,253.1 L576.5,255.2 L577.0,259.0 L577.5,254.3 L578.0,250.6 L578.5,247.6 L579.0,245.1 L579.5,242.2 L580.0,239.6" fill="none" stroke="#3c8c28" stroke-width="1.0" stroke-linejoin="round"/>
<path d="M566.0,207.1 L566.5,206.9 L567.0,208.7 L567.5,209.5 L568.0,207.3 L568.5,210.1 L569.0,209.0 L569.5,212.7 L570.0,212.9 L570.5,209.2 L571.0,212.3 L571.5,210.9 L572.0,210.1 L572.5,214.0 L573.0,214.4 L573.6,213.9 L574.1,213.3 L574.6,215.2 L575.1,213.3 L575.7,214.0 L576.2,214.1 L576.7,215.3 L577.2,215.4 L577.8,212.9 L578.3,212.5 L578.8,216.0 L579.3,218.0 L579.8,218.7 L580.3,223.0 L580.8,224.7 L581.3,225.7 L581.9,228.4 L582.4,232.6 L583.0,233.5 L583.5,235.7 L584.0,231.5 L584.5,234.5 L585.0,232.3 L585.5,229.7 L586.0,228.5 L586.5,231.7 L587.0,232.2 L587.5,234.5 L588.0,232.7 L588.5,237.7 L589.0,236.6 L589.5,235.2 L590.0,235.2 L590.5,233.0 L591.0,230.7 L591.5,228.5 L592.0,227.8 L592.5,226.8 L593.0,229.1 L593.5,233.1 L594.0,230.8 L594.5,231.8 L595.0,236.7 L595.5,233.5 L596.0,233.5 L596.5,232.9 L597.0,232.8 L597.5,229.9 L598.0,231.4 L598.5,228.8 L599.0,234.4 L599.5,233.0 L600.0,236.0 L600.5,235.7 L601.0,239.2 L601.5,237.0 L602.0,237.8 L602.5,236.1 L603.0,238.3 L603.5,237.7 L604.0,234.5 L604.5,236.9 L605.0,237.5 L605.5,233.7 L606.0,233.1 L606.5,236.5 L607.0,236.3 L607.5,232.6 L608.0,236.4 L608.5,237.7 L609.0,234.8 L609.5,237.7 L610.0,235.7 L610.5,238.4 L611.0,237.4 L611.5,237.5 L612.0,236.1" fill="none" stroke="#3c8c28" stroke-width="1.0" stroke-linejoin="round"/>
<path d="M575.0,210.4 L575.6,210.9 L576.2,210.2 L576.9,210.0 L577.5,210.5 L578.1,211.3 L578.8,213.4 L579.4,213.2 L580.0,214.0 L580.6,214.0 L581.2,212.9 L581.9,213.9 L582.5,215.6 L583.1,215.7 L583.8,216.4 L584.4,216.4 L585.0,216.5 L585.6,217.1 L586.2,218.0 L586.9,217.3 L587.5,216.9 L588.1,218.0 L588.8,217.8 L589.4,219.0 L590.0,220.2 L590.6,219.8 L591.2,220.1 L591.9,220.2 L592.5,221.2 L593.1,221.9 L593.8,222.5 L594.4,223.7 L595.0,222.0 L595.6,222.8 L596.2,222.7 L596.9,225.2 L597.5,224.8 L598.1,225.3 L598.8,226.0 L599.4,224.4 L600.0,227.0 L600.6,226.2 L601.2,227.5 L601.8,227.6 L602.4,229.0 L603.0,228.5 L603.6,229.1 L604.2,229.6 L604.8,231.3 L605.4,231.3 L606.0,231.2 L606.6,231.8 L607.2,232.4 L607.8,232.0 L608.4,232.6 L609.0,233.3 L609.6,232.9 L610.2,233.4 L610.8,232.3 L611.4,233.8 L612.0,234.1" fill="none" stroke="#3c8c28" stroke-width="1.0" stroke-linejoin="round"/>
<path d="M588.3,220.0 L588.3,259.2" fill="none" stroke="#3c8c28" stroke-width="0.9" stroke-linejoin="round"/>
<path d="M575.0,250.2 L575.4,245.1 L575.8,243.5 L576.2,245.5 L576.6,244.2 L577.0,241.3 L577.4,243.2 L577.8,246.6 L578.2,247.3 L578.6,253.4 L579.0,259.0 L579.4,251.4 L579.8,251.1 L580.2,249.7 L580.6,245.7 L581.0,241.1 L581.4,242.0 L581.8,246.6 L582.2,249.4 L582.6,250.7 L583.0,249.4" fill="none" stroke="#3c8c28" stroke-width="1.0" stroke-linejoin="round"/>
<path d="M60.7 66.5H331.6V332.7H60.7Z M60.7 174.4H331.6 M60.7 188.4H331.6" fill="none" stroke="#3c3c3c" stroke-width="1"/>
<line x1="60.7" x2="60.7" y1="62.0" y2="66.5" stroke="#3c3c3c" stroke-width="1"/>
<line x1="60.7" x2="60.7" y1="332.7" y2="337.2" stroke="#3c3c3c" stroke-width="1"/>
<line x1="82.65" x2="82.65" y1="63.0" y2="66.5" stroke="#3c3c3c" stroke-width="1"/>
<line x1="82.65" x2="82.65" y1="332.7" y2="336.2" stroke="#3c3c3c" stroke-width="1"/>
<line x1="104.6" x2="104.6" y1="62.0" y2="66.5" stroke="#3c3c3c" stroke-width="1"/>
<line x1="104.6" x2="104.6" y1="332.7" y2="337.2" stroke="#3c3c3c" stroke-width="1"/>
<line x1="126.55" x2="126.55" y1="63.0" y2="66.5" stroke="#3c3c3c" stroke-width="1"/>
<line x1="126.55" x2="126.55" y1="332.7" y2="336.2" stroke="#3c3c3c" stroke-width="1"/>
<line x1="148.5" x2="148.5" y1="62.0" y2="66.5" stroke="#3c3c3c" stroke-width="1"/>
<line x1="148.5" x2="148.5" y1="332.7" y2="337.2" stroke="#3c3c3c" stroke-width="1"/>
<line x1="170.45" x2="170.45" y1="63.0" y2="66.5" stroke="#3c3c3c" stroke-width="1"/>
<line x1="170.45" x2="170.45" y1="332.7" y2="336.2" stroke="#3c3c3c" stroke-width="1"/>
<line x1="192.39999999999998" x2="192.39999999999998" y1="62.0" y2="66.5" stroke="#3c3c3c" stroke-width="1"/>
<line x1="192.39999999999998" x2="192.39999999999998" y1="332.7" y2="337.2" stroke="#3c3c3c" stroke-width="1"/>
<line x1="214.35000000000002" x2="214.35000000000002" y1="63.0" y2="66.5" stroke="#3c3c3c" stroke-width="1"/>
<line x1="214.35000000000002" x2="214.35000000000002" y1="332.7" y2="336.2" stroke="#3c3c3c" stroke-width="1"/>
<line x1="236.3" x2="236.3" y1="62.0" y2="66.5" stroke="#3c3c3c" stroke-width="1"/>
<line x1="236.3" x2="236.3" y1="332.7" y2="337.2" stroke="#3c3c3c" stroke-width="1"/>
<line x1="258.25" x2="258.25" y1="63.0" y2="66.5" stroke="#3c3c3c" stroke-width="1"/>
<line x1="258.25" x2="258.25" y1="332.7" y2="336.2" stroke="#3c3c3c" stroke-width="1"/>
<line x1="280.2" x2="280.2" y1="62.0" y2="66.5" stroke="#3c3c3c" stroke-width="1"/>
<line x1="280.2" x2="280.2" y1="332.7" y2="337.2" stroke="#3c3c3c" stroke-width="1"/>
<line x1="302.15" x2="302.15" y1="63.0" y2="66.5" stroke="#3c3c3c" stroke-width="1"/>
<line x1="302.15" x2="302.15" y1="332.7" y2="336.2" stroke="#3c3c3c" stroke-width="1"/>
<line x1="324.09999999999997" x2="324.09999999999997" y1="62.0" y2="66.5" stroke="#3c3c3c" stroke-width="1"/>
<line x1="324.09999999999997" x2="324.09999999999997" y1="332.7" y2="337.2" stroke="#3c3c3c" stroke-width="1"/>
<line x1="56.2" x2="60.7" y1="174.4" y2="174.4" stroke="#3c3c3c" stroke-width="1"/>
<line x1="56.2" x2="60.7" y1="141.23333333333335" y2="141.23333333333335" stroke="#3c3c3c" stroke-width="1"/>
<line x1="56.2" x2="60.7" y1="108.06666666666668" y2="108.06666666666668" stroke="#3c3c3c" stroke-width="1"/>
<line x1="56.2" x2="60.7" y1="74.9" y2="74.9" stroke="#3c3c3c" stroke-width="1"/>
<line x1="331.6" x2="336.1" y1="174.42" y2="174.42" stroke="#3c3c3c" stroke-width="1"/>
<line x1="331.6" x2="336.1" y1="138.45" y2="138.45" stroke="#3c3c3c" stroke-width="1"/>
<line x1="331.6" x2="336.1" y1="102.47999999999999" y2="102.47999999999999" stroke="#3c3c3c" stroke-width="1"/>
<line x1="331.6" x2="336.1" y1="66.50999999999999" y2="66.50999999999999" stroke="#3c3c3c" stroke-width="1"/>
<line x1="56.2" x2="60.7" y1="332.8" y2="332.8" stroke="#3c3c3c" stroke-width="1"/>
<line x1="56.2" x2="60.7" y1="305.3" y2="305.3" stroke="#3c3c3c" stroke-width="1"/>
<line x1="56.2" x2="60.7" y1="277.8" y2="277.8" stroke="#3c3c3c" stroke-width="1"/>
<line x1="56.2" x2="60.7" y1="250.3" y2="250.3" stroke="#3c3c3c" stroke-width="1"/>
<line x1="56.2" x2="60.7" y1="222.8" y2="222.8" stroke="#3c3c3c" stroke-width="1"/>
<line x1="56.2" x2="60.7" y1="195.3" y2="195.3" stroke="#3c3c3c" stroke-width="1"/>
<text transform="translate(64.0,60.3) rotate(-45)" font-size="10.5" fill="#222">09/21</text>
<text transform="translate(63.5,345.7) rotate(-45)" font-size="10.5" fill="#222" text-anchor="end">09/21</text>
<text transform="translate(107.89999999999999,60.3) rotate(-45)" font-size="10.5" fill="#222">03/22</text>
<text transform="translate(107.39999999999999,345.7) rotate(-45)" font-size="10.5" fill="#222" text-anchor="end">03/22</text>
<text transform="translate(151.8,60.3) rotate(-45)" font-size="10.5" fill="#222">09/22</text>
<text transform="translate(151.3,345.7) rotate(-45)" font-size="10.5" fill="#222" text-anchor="end">09/22</text>
<text transform="translate(195.7,60.3) rotate(-45)" font-size="10.5" fill="#222">03/23</text>
<text transform="translate(195.2,345.7) rotate(-45)" font-size="10.5" fill="#222" text-anchor="end">03/23</text>
<text transform="translate(239.60000000000002,60.3) rotate(-45)" font-size="10.5" fill="#222">09/23</text>
<text transform="translate(239.10000000000002,345.7) rotate(-45)" font-size="10.5" fill="#222" text-anchor="end">09/23</text>
<text transform="translate(283.5,60.3) rotate(-45)" font-size="10.5" fill="#222">03/24</text>
<text transform="translate(283.0,345.7) rotate(-45)" font-size="10.5" fill="#222" text-anchor="end">03/24</text>
<text transform="translate(327.4,60.3) rotate(-45)" font-size="10.5" fill="#222">09/24</text>
<text transform="translate(326.9,345.7) rotate(-45)" font-size="10.5" fill="#222" text-anchor="end">09/24</text>
<path d="M345.3 66.5H615.5V332.7H345.3Z M345.3 174.4H615.5 M345.3 188.4H615.5" fill="none" stroke="#3c3c3c" stroke-width="1"/>
<line x1="345.3" x2="345.3" y1="62.0" y2="66.5" stroke="#3c3c3c" stroke-width="1"/>
<line x1="345.3" x2="345.3" y1="332.7" y2="337.2" stroke="#3c3c3c" stroke-width="1"/>
<line x1="367.25" x2="367.25" y1="63.0" y2="66.5" stroke="#3c3c3c" stroke-width="1"/>
<line x1="367.25" x2="367.25" y1="332.7" y2="336.2" stroke="#3c3c3c" stroke-width="1"/>
<line x1="389.2" x2="389.2" y1="62.0" y2="66.5" stroke="#3c3c3c" stroke-width="1"/>
<line x1="389.2" x2="389.2" y1="332.7" y2="337.2" stroke="#3c3c3c" stroke-width="1"/>
<line x1="411.15" x2="411.15" y1="63.0" y2="66.5" stroke="#3c3c3c" stroke-width="1"/>
<line x1="411.15" x2="411.15" y1="332.7" y2="336.2" stroke="#3c3c3c" stroke-width="1"/>
<line x1="433.1" x2="433.1" y1="62.0" y2="66.5" stroke="#3c3c3c" stroke-width="1"/>
<line x1="433.1" x2="433.1" y1="332.7" y2="337.2" stroke="#3c3c3c" stroke-width="1"/>
<line x1="455.05" x2="455.05" y1="63.0" y2="66.5" stroke="#3c3c3c" stroke-width="1"/>
<line x1="455.05" x2="455.05" y1="332.7" y2="336.2" stroke="#3c3c3c" stroke-width="1"/>
<line x1="477.0" x2="477.0" y1="62.0" y2="66.5" stroke="#3c3c3c" stroke-width="1"/>
<line x1="477.0" x2="477.0" y1="332.7" y2="337.2" stroke="#3c3c3c" stroke-width="1"/>
<line x1="498.95000000000005" x2="498.95000000000005" y1="63.0" y2="66.5" stroke="#3c3c3c" stroke-width="1"/>
<line x1="498.95000000000005" x2="498.95000000000005" y1="332.7" y2="336.2" stroke="#3c3c3c" stroke-width="1"/>
<line x1="520.9" x2="520.9" y1="62.0" y2="66.5" stroke="#3c3c3c" stroke-width="1"/>
<line x1="520.9" x2="520.9" y1="332.7" y2="337.2" stroke="#3c3c3c" stroke-width="1"/>
<line x1="542.85" x2="542.85" y1="63.0" y2="66.5" stroke="#3c3c3c" stroke-width="1"/>
<line x1="542.85" x2="542.85" y1="332.7" y2="336.2" stroke="#3c3c3c" stroke-width="1"/>
<line x1="564.8" x2="564.8" y1="62.0" y2="66.5" stroke="#3c3c3c" stroke-width="1"/>
<line x1="564.8" x2="564.8" y1="332.7" y2="337.2" stroke="#3c3c3c" stroke-width="1"/>
<line x1="586.75" x2="586.75" y1="63.0" y2="66.5" stroke="#3c3c3c" stroke-width="1"/>
<line x1="586.75" x2="586.75" y1="332.7" y2="336.2" stroke="#3c3c3c" stroke-width="1"/>
<line x1="608.7" x2="608.7" y1="62.0" y2="66.5" stroke="#3c3c3c" stroke-width="1"/>
<line x1="608.7" x2="608.7" y1="332.7" y2="337.2" stroke="#3c3c3c" stroke-width="1"/>
<line x1="340.8" x2="345.3" y1="174.4" y2="174.4" stroke="#3c3c3c" stroke-width="1"/>
<line x1="340.8" x2="345.3" y1="141.23333333333335" y2="141.23333333333335" stroke="#3c3c3c" stroke-width="1"/>
<line x1="340.8" x2="345.3" y1="108.06666666666668" y2="108.06666666666668" stroke="#3c3c3c" stroke-width="1"/>
<line x1="340.8" x2="345.3" y1="74.9" y2="74.9" stroke="#3c3c3c" stroke-width="1"/>
<line x1="615.5" x2="620.0" y1="174.42" y2="174.42" stroke="#3c3c3c" stroke-width="1"/>
<line x1="615.5" x2="620.0" y1="138.45" y2="138.45" stroke="#3c3c3c" stroke-width="1"/>
<line x1="615.5" x2="620.0" y1="102.47999999999999" y2="102.47999999999999" stroke="#3c3c3c" stroke-width="1"/>
<line x1="615.5" x2="620.0" y1="66.50999999999999" y2="66.50999999999999" stroke="#3c3c3c" stroke-width="1"/>
<line x1="340.8" x2="345.3" y1="332.8" y2="332.8" stroke="#3c3c3c" stroke-width="1"/>
<line x1="340.8" x2="345.3" y1="305.3" y2="305.3" stroke="#3c3c3c" stroke-width="1"/>
<line x1="340.8" x2="345.3" y1="277.8" y2="277.8" stroke="#3c3c3c" stroke-width="1"/>
<line x1="340.8" x2="345.3" y1="250.3" y2="250.3" stroke="#3c3c3c" stroke-width="1"/>
<line x1="340.8" x2="345.3" y1="222.8" y2="222.8" stroke="#3c3c3c" stroke-width="1"/>
<line x1="340.8" x2="345.3" y1="195.3" y2="195.3" stroke="#3c3c3c" stroke-width="1"/>
<text transform="translate(348.6,60.3) rotate(-45)" font-size="10.5" fill="#222">09/21</text>
<text transform="translate(348.1,345.7) rotate(-45)" font-size="10.5" fill="#222" text-anchor="end">09/21</text>
<text transform="translate(392.5,60.3) rotate(-45)" font-size="10.5" fill="#222">03/22</text>
<text transform="translate(392.0,345.7) rotate(-45)" font-size="10.5" fill="#222" text-anchor="end">03/22</text>
<text transform="translate(436.40000000000003,60.3) rotate(-45)" font-size="10.5" fill="#222">09/22</text>
<text transform="translate(435.90000000000003,345.7) rotate(-45)" font-size="10.5" fill="#222" text-anchor="end">09/22</text>
<text transform="translate(480.3,60.3) rotate(-45)" font-size="10.5" fill="#222">03/23</text>
<text transform="translate(479.8,345.7) rotate(-45)" font-size="10.5" fill="#222" text-anchor="end">03/23</text>
<text transform="translate(524.1999999999999,60.3) rotate(-45)" font-size="10.5" fill="#222">09/23</text>
<text transform="translate(523.6999999999999,345.7) rotate(-45)" font-size="10.5" fill="#222" text-anchor="end">09/23</text>
<text transform="translate(568.0999999999999,60.3) rotate(-45)" font-size="10.5" fill="#222">03/24</text>
<text transform="translate(567.5999999999999,345.7) rotate(-45)" font-size="10.5" fill="#222" text-anchor="end">03/24</text>
<text transform="translate(612.0,60.3) rotate(-45)" font-size="10.5" fill="#222">09/24</text>
<text transform="translate(611.5,345.7) rotate(-45)" font-size="10.5" fill="#222" text-anchor="end">09/24</text>
<text x="50.5" y="178.70000000000002" font-size="10" text-anchor="end" fill="#5b8cf0">0</text>
<text x="50.5" y="145.53333333333336" font-size="10" text-anchor="end" fill="#5b8cf0">20</text>
<text x="50.5" y="112.36666666666667" font-size="10" text-anchor="end" fill="#5b8cf0">40</text>
<text x="50.5" y="79.2" font-size="10" text-anchor="end" fill="#5b8cf0">60</text>
<text x="50.5" y="336.5" font-size="10" text-anchor="end" fill="#4b8c32">-200</text>
<text x="50.5" y="309.0" font-size="10" text-anchor="end" fill="#4b8c32">0</text>
<text x="50.5" y="281.5" font-size="10" text-anchor="end" fill="#4b8c32">200</text>
<text x="50.5" y="254.0" font-size="10" text-anchor="end" fill="#4b8c32">400</text>
<text x="50.5" y="226.5" font-size="10" text-anchor="end" fill="#4b8c32">600</text>
<text x="50.5" y="199.0" font-size="10" text-anchor="end" fill="#4b8c32">800</text>
<text x="633.7" y="178.22" font-size="10" text-anchor="end" fill="#f77cf5">-4</text>
<text x="633.7" y="142.25" font-size="10" text-anchor="end" fill="#f77cf5">0</text>
<text x="633.7" y="106.27999999999999" font-size="10" text-anchor="end" fill="#f77cf5">4</text>
<text x="633.7" y="70.30999999999999" font-size="10" text-anchor="end" fill="#f77cf5">8</text>
<text transform="translate(11.2,122) rotate(-90)" font-size="13" text-anchor="middle" fill="#5b8cf0">Water content</text>
<text transform="translate(25,120.5) rotate(-90)" font-size="13" text-anchor="middle" fill="#5b8cf0">[vol.%]</text>
<text transform="translate(13,261) rotate(-90)" font-size="13" text-anchor="middle" fill="#4b8c32">E<tspan font-size="9.5" dy="4">H</tspan><tspan dy="-4"> [mV]</tspan></text>
<text transform="translate(657.3,120) rotate(-90)" font-size="13" text-anchor="middle" fill="#f77cf5">Temperature [°C]</text>
<text x="68" y="84.3" font-size="13" fill="#222">(a)</text>
<text x="352.5" y="84.2" font-size="13" fill="#222">(b)</text>
<rect x="622.5" y="188.7" width="50.700000000000045" height="75.80000000000001" fill="#f5e5d9"/>
<rect x="622.5" y="264.5" width="50.700000000000045" height="27.5" fill="#e6e8db"/>
<rect x="622.5" y="292" width="50.700000000000045" height="27.30000000000001" fill="#d4d4e4"/>
<rect x="622.5" y="319.3" width="50.700000000000045" height="13.599999999999966" fill="#d3ede7"/>
<rect x="622.5" y="188.7" width="50.700000000000045" height="144.2" fill="none" stroke="#777" stroke-width="1"/>
<line x1="622.5" x2="673.2" y1="264.5" y2="264.5" stroke="#a09c96" stroke-width="1.1" stroke-dasharray="8.5,3.3" stroke-dashoffset="4.9"/>
<line x1="622.5" x2="673.2" y1="292" y2="292" stroke="#a09c96" stroke-width="1.1" stroke-dasharray="8.5,3.3" stroke-dashoffset="4.9"/>
<line x1="622.5" x2="673.2" y1="319.3" y2="319.3" stroke="#a09c96" stroke-width="1.1" stroke-dasharray="8.5,3.3" stroke-dashoffset="4.9"/>
<text x="647.85" y="232.8" font-size="8.8" text-anchor="middle" fill="#222">oxidizing</text>
<text x="647.85" y="282.1" font-size="8.8" text-anchor="middle" fill="#222">weakly</text>
<text x="647.85" y="310" font-size="8.8" text-anchor="middle" fill="#222">moderately</text>
<text x="647.85" y="328.8" font-size="8.8" text-anchor="middle" fill="#222">strongly</text>
<text transform="translate(682,300.8) rotate(-90)" font-size="8.8" text-anchor="middle" fill="#222">reducing</text>
</svg></body></html>
